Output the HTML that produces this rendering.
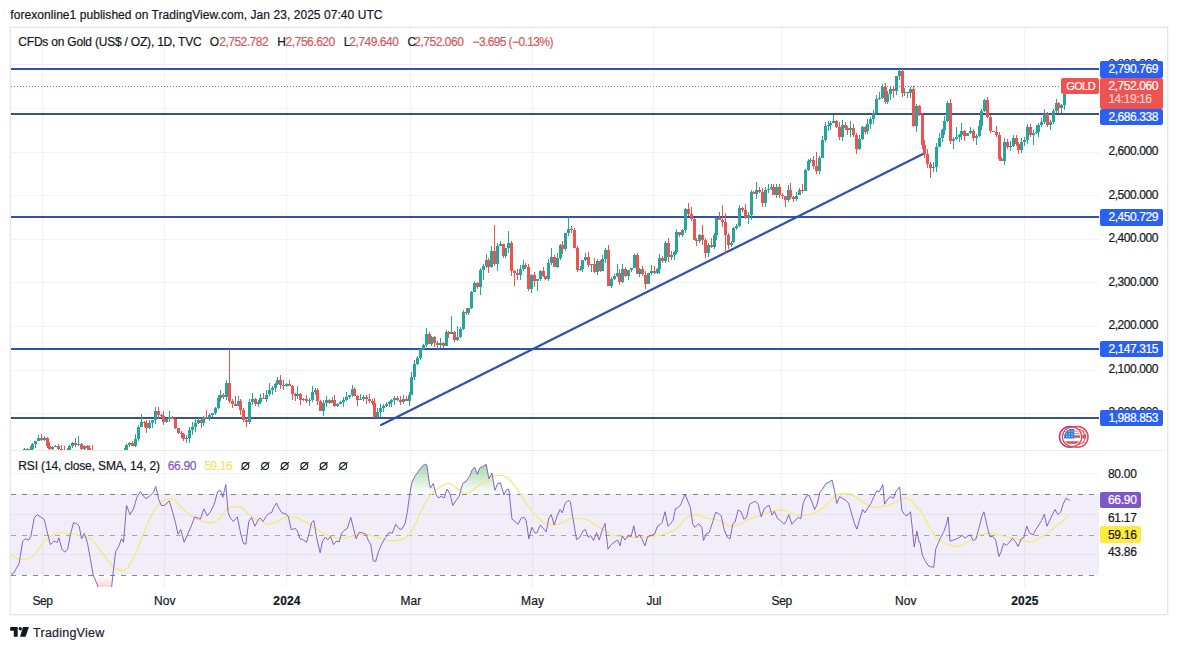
<!DOCTYPE html>
<html><head><meta charset="utf-8"><title>CFDs on Gold</title>
<style>
html,body{margin:0;padding:0;background:#fff;}
body{width:1177px;height:650px;position:relative;overflow:hidden;font-family:"Liberation Sans",sans-serif;}
.t{position:absolute;white-space:pre;line-height:1;font-family:"Liberation Sans",sans-serif;-webkit-text-stroke:0.2px currentColor;}
.lb{position:absolute;}
svg{position:absolute;left:0;top:0;}
.frame{position:absolute;left:10px;top:27px;width:1155.6px;height:586px;border:1px solid #e6e6e9;box-sizing:content-box;box-shadow:0 0 0 1px #f7f7f9;}
</style></head><body>
<div class="frame"></div>
<svg width="1177" height="650" viewBox="0 0 1177 650">
<defs>
<clipPath id="cpMain"><rect x="11" y="28" width="1088" height="422"/></clipPath>
<clipPath id="cpRsi"><rect x="11" y="451" width="1088" height="136"/></clipPath>
<clipPath id="cpOB"><rect x="10" y="450" width="1089" height="43.8"/></clipPath>
<clipPath id="cpOS"><rect x="10" y="575.3" width="1089" height="11.7"/></clipPath>
<linearGradient id="gOB" gradientUnits="userSpaceOnUse" x1="0" y1="449.0" x2="0" y2="493.8"><stop offset="0" stop-color="#4caf50" stop-opacity="0.75"/><stop offset="1" stop-color="#4caf50" stop-opacity="0"/></linearGradient>
<linearGradient id="gOS" gradientUnits="userSpaceOnUse" x1="0" y1="575.3" x2="0" y2="587"><stop offset="0" stop-color="#ff5252" stop-opacity="0"/><stop offset="1" stop-color="#ff5252" stop-opacity="0.25"/></linearGradient>
<clipPath id="cpFlag"><circle cx="1072.1" cy="436.9" r="8.1"/></clipPath>
</defs>
<g shape-rendering="crispEdges">
<rect x="42" y="28" width="1" height="559" fill="#f2f3f5"/>
<rect x="164" y="28" width="1" height="559" fill="#f2f3f5"/>
<rect x="286" y="28" width="1" height="559" fill="#f2f3f5"/>
<rect x="410" y="28" width="1" height="559" fill="#f2f3f5"/>
<rect x="532" y="28" width="1" height="559" fill="#f2f3f5"/>
<rect x="653" y="28" width="1" height="559" fill="#f2f3f5"/>
<rect x="781" y="28" width="1" height="559" fill="#f2f3f5"/>
<rect x="905" y="28" width="1" height="559" fill="#f2f3f5"/>
<rect x="1024" y="28" width="1" height="559" fill="#f2f3f5"/>
<rect x="11" y="64" width="1088" height="1" fill="#f2f3f5"/>
<rect x="11" y="108" width="1088" height="1" fill="#f2f3f5"/>
<rect x="11" y="152" width="1088" height="1" fill="#f2f3f5"/>
<rect x="11" y="195" width="1088" height="1" fill="#f2f3f5"/>
<rect x="11" y="239" width="1088" height="1" fill="#f2f3f5"/>
<rect x="11" y="282" width="1088" height="1" fill="#f2f3f5"/>
<rect x="11" y="326" width="1088" height="1" fill="#f2f3f5"/>
<rect x="11" y="370" width="1088" height="1" fill="#f2f3f5"/>
<rect x="11" y="413" width="1088" height="1" fill="#f2f3f5"/>
<rect x="11" y="473" width="1088" height="1" fill="#f2f3f5"/>
<rect x="11" y="514" width="1088" height="1" fill="#f2f3f5"/>
<rect x="11" y="554" width="1088" height="1" fill="#f2f3f5"/>
<rect x="11" y="450" width="1155" height="1" fill="#e9eaee"/>
</g>
<line x1="11" y1="86.5" x2="1061" y2="86.5" stroke="#a06a66" stroke-width="1" stroke-dasharray="1 2"/>
<g shape-rendering="crispEdges">
<rect x="11" y="68" width="1087.5" height="2" fill="#2d51b6"/>
<rect x="11" y="113" width="1087.5" height="2" fill="#38528a"/>
<rect x="11" y="216" width="1087.5" height="2" fill="#2d51b6"/>
<rect x="11" y="348" width="1087.5" height="2" fill="#2d51b6"/>
<rect x="11" y="417" width="1087.5" height="2" fill="#38528a"/>
</g>
<line x1="381" y1="424.9" x2="924.5" y2="153.2" stroke="#2d51b6" stroke-width="2.2" stroke-linecap="round"/>
<g clip-path="url(#cpMain)" shape-rendering="crispEdges">
<rect x="12" y="453.0" width="1" height="6.8" fill="#26a69a"/>
<rect x="11" y="456.0" width="3" height="2.8" fill="#26a69a"/>
<rect x="15" y="455.0" width="1" height="4.0" fill="#ef5350"/>
<rect x="14" y="456.0" width="3" height="2.0" fill="#ef5350"/>
<rect x="18" y="450.0" width="1" height="8.0" fill="#26a69a"/>
<rect x="17" y="453.0" width="3" height="5.0" fill="#26a69a"/>
<rect x="21" y="449.5" width="1" height="3.5" fill="#26a69a"/>
<rect x="20" y="451.5" width="3" height="1.5" fill="#26a69a"/>
<rect x="24" y="448.2" width="1" height="7.3" fill="#26a69a"/>
<rect x="23" y="449.2" width="3" height="2.3" fill="#26a69a"/>
<rect x="27" y="447.8" width="1" height="3.8" fill="#ef5350"/>
<rect x="26" y="449.2" width="3" height="1.4" fill="#ef5350"/>
<rect x="30" y="445.6" width="1" height="9.0" fill="#26a69a"/>
<rect x="29" y="449.0" width="3" height="1.6" fill="#26a69a"/>
<rect x="32" y="442.6" width="1" height="8.4" fill="#26a69a"/>
<rect x="31" y="443.6" width="3" height="5.4" fill="#26a69a"/>
<rect x="35" y="440.8" width="1" height="6.8" fill="#26a69a"/>
<rect x="34" y="440.8" width="3" height="2.8" fill="#26a69a"/>
<rect x="38" y="435.2" width="1" height="5.6" fill="#26a69a"/>
<rect x="37" y="437.8" width="3" height="3.0" fill="#26a69a"/>
<rect x="41" y="434.3" width="1" height="7.1" fill="#ef5350"/>
<rect x="40" y="437.8" width="3" height="1.8" fill="#ef5350"/>
<rect x="44" y="436.0" width="1" height="5.0" fill="#26a69a"/>
<rect x="43" y="438.2" width="3" height="1.4" fill="#26a69a"/>
<rect x="47" y="437.2" width="1" height="10.4" fill="#ef5350"/>
<rect x="46" y="438.2" width="3" height="7.4" fill="#ef5350"/>
<rect x="49" y="441.6" width="1" height="8.5" fill="#ef5350"/>
<rect x="48" y="445.6" width="3" height="3.5" fill="#ef5350"/>
<rect x="52" y="445.6" width="1" height="4.5" fill="#26a69a"/>
<rect x="51" y="447.2" width="3" height="1.9" fill="#26a69a"/>
<rect x="55" y="444.5" width="1" height="2.7" fill="#26a69a"/>
<rect x="54" y="445.5" width="3" height="1.7" fill="#26a69a"/>
<rect x="58" y="443.8" width="1" height="6.7" fill="#ef5350"/>
<rect x="57" y="445.5" width="3" height="3.0" fill="#ef5350"/>
<rect x="61" y="444.5" width="1" height="9.0" fill="#ef5350"/>
<rect x="60" y="448.5" width="3" height="2.0" fill="#ef5350"/>
<rect x="64" y="445.5" width="1" height="9.9" fill="#ef5350"/>
<rect x="63" y="450.5" width="3" height="1.9" fill="#ef5350"/>
<rect x="67" y="448.2" width="1" height="6.3" fill="#26a69a"/>
<rect x="66" y="450.2" width="3" height="2.3" fill="#26a69a"/>
<rect x="69" y="444.6" width="1" height="7.6" fill="#26a69a"/>
<rect x="68" y="445.6" width="3" height="4.6" fill="#26a69a"/>
<rect x="72" y="441.6" width="1" height="6.0" fill="#26a69a"/>
<rect x="71" y="442.6" width="3" height="3.0" fill="#26a69a"/>
<rect x="75" y="437.6" width="1" height="9.3" fill="#ef5350"/>
<rect x="74" y="442.6" width="3" height="2.3" fill="#ef5350"/>
<rect x="78" y="436.1" width="1" height="9.8" fill="#26a69a"/>
<rect x="77" y="443.5" width="3" height="1.4" fill="#26a69a"/>
<rect x="81" y="442.5" width="1" height="10.6" fill="#ef5350"/>
<rect x="80" y="443.5" width="3" height="5.6" fill="#ef5350"/>
<rect x="84" y="444.8" width="1" height="7.3" fill="#26a69a"/>
<rect x="83" y="445.8" width="3" height="3.3" fill="#26a69a"/>
<rect x="87" y="444.8" width="1" height="5.8" fill="#ef5350"/>
<rect x="86" y="445.8" width="3" height="1.8" fill="#ef5350"/>
<rect x="89" y="444.6" width="1" height="8.1" fill="#ef5350"/>
<rect x="88" y="447.6" width="3" height="2.1" fill="#ef5350"/>
<rect x="92" y="444.7" width="1" height="7.9" fill="#ef5350"/>
<rect x="91" y="449.7" width="3" height="1.9" fill="#ef5350"/>
<rect x="95" y="450.6" width="1" height="4.4" fill="#ef5350"/>
<rect x="94" y="451.6" width="3" height="1.4" fill="#ef5350"/>
<rect x="98" y="452.0" width="1" height="3.1" fill="#ef5350"/>
<rect x="97" y="453.0" width="3" height="2.1" fill="#ef5350"/>
<rect x="101" y="450.1" width="1" height="9.0" fill="#ef5350"/>
<rect x="100" y="455.1" width="3" height="2.0" fill="#ef5350"/>
<rect x="104" y="452.1" width="1" height="9.3" fill="#ef5350"/>
<rect x="103" y="457.1" width="3" height="1.3" fill="#ef5350"/>
<rect x="106" y="454.7" width="1" height="8.7" fill="#26a69a"/>
<rect x="105" y="455.7" width="3" height="2.7" fill="#26a69a"/>
<rect x="109" y="452.2" width="1" height="4.5" fill="#26a69a"/>
<rect x="108" y="454.2" width="3" height="1.5" fill="#26a69a"/>
<rect x="112" y="450.2" width="1" height="10.7" fill="#ef5350"/>
<rect x="111" y="454.2" width="3" height="2.7" fill="#ef5350"/>
<rect x="115" y="451.9" width="1" height="10.4" fill="#ef5350"/>
<rect x="114" y="456.9" width="3" height="1.4" fill="#ef5350"/>
<rect x="118" y="453.6" width="1" height="8.7" fill="#26a69a"/>
<rect x="117" y="454.6" width="3" height="3.7" fill="#26a69a"/>
<rect x="121" y="451.6" width="1" height="9.1" fill="#ef5350"/>
<rect x="120" y="454.6" width="3" height="2.1" fill="#ef5350"/>
<rect x="124" y="448.0" width="1" height="9.7" fill="#26a69a"/>
<rect x="123" y="450.0" width="3" height="6.7" fill="#26a69a"/>
<rect x="126" y="444.4" width="1" height="6.6" fill="#26a69a"/>
<rect x="125" y="445.4" width="3" height="4.6" fill="#26a69a"/>
<rect x="129" y="441.8" width="1" height="5.5" fill="#26a69a"/>
<rect x="128" y="442.8" width="3" height="2.5" fill="#26a69a"/>
<rect x="132" y="440.8" width="1" height="5.4" fill="#ef5350"/>
<rect x="131" y="442.8" width="3" height="3.4" fill="#ef5350"/>
<rect x="135" y="433.6" width="1" height="13.6" fill="#26a69a"/>
<rect x="134" y="438.6" width="3" height="7.6" fill="#26a69a"/>
<rect x="138" y="424.7" width="1" height="15.9" fill="#26a69a"/>
<rect x="137" y="426.7" width="3" height="11.9" fill="#26a69a"/>
<rect x="141" y="413.9" width="1" height="12.7" fill="#26a69a"/>
<rect x="140" y="421.6" width="3" height="5.1" fill="#26a69a"/>
<rect x="144" y="420.6" width="1" height="6.7" fill="#ef5350"/>
<rect x="143" y="421.6" width="3" height="1.7" fill="#ef5350"/>
<rect x="146" y="420.3" width="1" height="12.3" fill="#ef5350"/>
<rect x="145" y="423.3" width="3" height="4.2" fill="#ef5350"/>
<rect x="149" y="420.3" width="1" height="8.2" fill="#26a69a"/>
<rect x="148" y="423.3" width="3" height="4.2" fill="#26a69a"/>
<rect x="152" y="419.9" width="1" height="8.4" fill="#26a69a"/>
<rect x="151" y="419.9" width="3" height="3.4" fill="#26a69a"/>
<rect x="155" y="406.5" width="1" height="17.3" fill="#26a69a"/>
<rect x="154" y="410.5" width="3" height="9.3" fill="#26a69a"/>
<rect x="158" y="406.5" width="1" height="12.2" fill="#ef5350"/>
<rect x="157" y="410.5" width="3" height="4.2" fill="#ef5350"/>
<rect x="161" y="413.8" width="1" height="4.4" fill="#ef5350"/>
<rect x="160" y="414.8" width="3" height="1.4" fill="#ef5350"/>
<rect x="163" y="411.1" width="1" height="13.8" fill="#ef5350"/>
<rect x="162" y="416.1" width="3" height="5.4" fill="#ef5350"/>
<rect x="166" y="418.0" width="1" height="4.5" fill="#26a69a"/>
<rect x="165" y="419.0" width="3" height="2.5" fill="#26a69a"/>
<rect x="169" y="411.4" width="1" height="10.6" fill="#26a69a"/>
<rect x="168" y="417.3" width="3" height="1.7" fill="#26a69a"/>
<rect x="172" y="416.3" width="1" height="2.8" fill="#ef5350"/>
<rect x="171" y="417.3" width="3" height="1.8" fill="#ef5350"/>
<rect x="175" y="418.1" width="1" height="11.3" fill="#ef5350"/>
<rect x="174" y="419.1" width="3" height="9.3" fill="#ef5350"/>
<rect x="178" y="428.4" width="1" height="5.4" fill="#ef5350"/>
<rect x="177" y="428.4" width="3" height="4.4" fill="#ef5350"/>
<rect x="181" y="430.7" width="1" height="7.6" fill="#ef5350"/>
<rect x="180" y="432.7" width="3" height="1.6" fill="#ef5350"/>
<rect x="183" y="433.3" width="1" height="8.1" fill="#ef5350"/>
<rect x="182" y="434.3" width="3" height="5.1" fill="#ef5350"/>
<rect x="186" y="434.7" width="1" height="8.1" fill="#26a69a"/>
<rect x="185" y="437.7" width="3" height="1.7" fill="#26a69a"/>
<rect x="189" y="427.1" width="1" height="15.6" fill="#26a69a"/>
<rect x="188" y="430.1" width="3" height="7.6" fill="#26a69a"/>
<rect x="192" y="421.5" width="1" height="13.6" fill="#26a69a"/>
<rect x="191" y="426.5" width="3" height="3.6" fill="#26a69a"/>
<rect x="195" y="418.3" width="1" height="13.2" fill="#26a69a"/>
<rect x="194" y="423.3" width="3" height="3.2" fill="#26a69a"/>
<rect x="198" y="417.9" width="1" height="6.4" fill="#26a69a"/>
<rect x="197" y="419.9" width="3" height="3.4" fill="#26a69a"/>
<rect x="201" y="418.9" width="1" height="8.7" fill="#ef5350"/>
<rect x="200" y="419.9" width="3" height="3.5" fill="#ef5350"/>
<rect x="203" y="415.6" width="1" height="10.8" fill="#26a69a"/>
<rect x="202" y="416.6" width="3" height="6.8" fill="#26a69a"/>
<rect x="206" y="409.8" width="1" height="9.6" fill="#ef5350"/>
<rect x="205" y="416.6" width="3" height="1.8" fill="#ef5350"/>
<rect x="209" y="413.4" width="1" height="8.0" fill="#26a69a"/>
<rect x="208" y="415.4" width="3" height="3.0" fill="#26a69a"/>
<rect x="212" y="413.3" width="1" height="4.1" fill="#26a69a"/>
<rect x="211" y="413.3" width="3" height="2.1" fill="#26a69a"/>
<rect x="215" y="407.1" width="1" height="8.2" fill="#26a69a"/>
<rect x="214" y="408.1" width="3" height="5.2" fill="#26a69a"/>
<rect x="218" y="394.9" width="1" height="14.2" fill="#26a69a"/>
<rect x="217" y="397.9" width="3" height="10.2" fill="#26a69a"/>
<rect x="220" y="390.2" width="1" height="10.6" fill="#26a69a"/>
<rect x="219" y="394.5" width="3" height="3.4" fill="#26a69a"/>
<rect x="223" y="392.5" width="1" height="6.0" fill="#ef5350"/>
<rect x="222" y="394.5" width="3" height="2.0" fill="#ef5350"/>
<rect x="226" y="380.0" width="1" height="20.4" fill="#26a69a"/>
<rect x="225" y="382.6" width="3" height="13.9" fill="#26a69a"/>
<rect x="229" y="348.9" width="1" height="54.3" fill="#ef5350"/>
<rect x="228" y="382.6" width="3" height="18.7" fill="#ef5350"/>
<rect x="232" y="399.3" width="1" height="8.8" fill="#ef5350"/>
<rect x="231" y="401.3" width="3" height="2.5" fill="#ef5350"/>
<rect x="235" y="396.2" width="1" height="9.3" fill="#ef5350"/>
<rect x="234" y="403.8" width="3" height="1.7" fill="#ef5350"/>
<rect x="238" y="396.2" width="1" height="9.3" fill="#26a69a"/>
<rect x="237" y="401.3" width="3" height="4.2" fill="#26a69a"/>
<rect x="240" y="399.3" width="1" height="15.5" fill="#ef5350"/>
<rect x="239" y="401.3" width="3" height="8.5" fill="#ef5350"/>
<rect x="243" y="407.8" width="1" height="14.2" fill="#ef5350"/>
<rect x="242" y="409.8" width="3" height="10.2" fill="#ef5350"/>
<rect x="246" y="417.0" width="1" height="10.0" fill="#ef5350"/>
<rect x="245" y="420.0" width="3" height="2.0" fill="#ef5350"/>
<rect x="249" y="399.1" width="1" height="25.1" fill="#26a69a"/>
<rect x="248" y="402.1" width="3" height="19.9" fill="#26a69a"/>
<rect x="252" y="392.8" width="1" height="12.3" fill="#26a69a"/>
<rect x="251" y="398.7" width="3" height="3.4" fill="#26a69a"/>
<rect x="255" y="397.7" width="1" height="8.1" fill="#ef5350"/>
<rect x="254" y="398.7" width="3" height="5.1" fill="#ef5350"/>
<rect x="258" y="400.3" width="1" height="6.5" fill="#26a69a"/>
<rect x="257" y="402.3" width="3" height="1.5" fill="#26a69a"/>
<rect x="260" y="393.6" width="1" height="10.6" fill="#26a69a"/>
<rect x="259" y="397.9" width="3" height="4.4" fill="#26a69a"/>
<rect x="263" y="392.9" width="1" height="6.4" fill="#ef5350"/>
<rect x="262" y="397.9" width="3" height="1.4" fill="#ef5350"/>
<rect x="266" y="389.5" width="1" height="12.8" fill="#26a69a"/>
<rect x="265" y="394.5" width="3" height="4.8" fill="#26a69a"/>
<rect x="269" y="382.6" width="1" height="12.9" fill="#26a69a"/>
<rect x="268" y="390.2" width="3" height="4.2" fill="#26a69a"/>
<rect x="272" y="385.9" width="1" height="9.3" fill="#26a69a"/>
<rect x="271" y="387.9" width="3" height="2.3" fill="#26a69a"/>
<rect x="275" y="383.3" width="1" height="8.6" fill="#26a69a"/>
<rect x="274" y="384.3" width="3" height="3.6" fill="#26a69a"/>
<rect x="277" y="376.5" width="1" height="8.8" fill="#26a69a"/>
<rect x="276" y="379.5" width="3" height="4.8" fill="#26a69a"/>
<rect x="280" y="375.4" width="1" height="13.2" fill="#ef5350"/>
<rect x="279" y="379.5" width="3" height="5.1" fill="#ef5350"/>
<rect x="283" y="379.6" width="1" height="10.4" fill="#ef5350"/>
<rect x="282" y="384.6" width="3" height="1.4" fill="#ef5350"/>
<rect x="286" y="382.9" width="1" height="4.1" fill="#26a69a"/>
<rect x="285" y="383.9" width="3" height="2.1" fill="#26a69a"/>
<rect x="289" y="379.5" width="1" height="6.1" fill="#ef5350"/>
<rect x="288" y="383.9" width="3" height="1.8" fill="#ef5350"/>
<rect x="292" y="384.6" width="1" height="14.9" fill="#ef5350"/>
<rect x="291" y="385.6" width="3" height="8.5" fill="#ef5350"/>
<rect x="295" y="393.1" width="1" height="8.2" fill="#ef5350"/>
<rect x="294" y="394.1" width="3" height="2.2" fill="#ef5350"/>
<rect x="297" y="385.6" width="1" height="13.7" fill="#26a69a"/>
<rect x="296" y="393.6" width="3" height="2.7" fill="#26a69a"/>
<rect x="300" y="392.6" width="1" height="12.0" fill="#ef5350"/>
<rect x="299" y="393.6" width="3" height="6.8" fill="#ef5350"/>
<rect x="303" y="398.1" width="1" height="3.3" fill="#26a69a"/>
<rect x="302" y="399.1" width="3" height="1.3" fill="#26a69a"/>
<rect x="306" y="395.1" width="1" height="8.2" fill="#ef5350"/>
<rect x="305" y="399.1" width="3" height="2.2" fill="#ef5350"/>
<rect x="309" y="397.9" width="1" height="8.4" fill="#26a69a"/>
<rect x="308" y="399.9" width="3" height="1.3" fill="#26a69a"/>
<rect x="312" y="386.0" width="1" height="16.0" fill="#26a69a"/>
<rect x="311" y="391.9" width="3" height="8.0" fill="#26a69a"/>
<rect x="315" y="388.2" width="1" height="6.7" fill="#26a69a"/>
<rect x="314" y="390.2" width="3" height="1.7" fill="#26a69a"/>
<rect x="317" y="388.2" width="1" height="17.0" fill="#ef5350"/>
<rect x="316" y="390.2" width="3" height="11.0" fill="#ef5350"/>
<rect x="320" y="400.3" width="1" height="10.3" fill="#ef5350"/>
<rect x="319" y="401.3" width="3" height="9.3" fill="#ef5350"/>
<rect x="323" y="400.0" width="1" height="15.6" fill="#26a69a"/>
<rect x="322" y="403.0" width="3" height="7.6" fill="#26a69a"/>
<rect x="326" y="396.2" width="1" height="10.8" fill="#26a69a"/>
<rect x="325" y="400.4" width="3" height="2.5" fill="#26a69a"/>
<rect x="329" y="399.4" width="1" height="4.5" fill="#ef5350"/>
<rect x="328" y="400.4" width="3" height="2.5" fill="#ef5350"/>
<rect x="332" y="397.0" width="1" height="5.9" fill="#26a69a"/>
<rect x="331" y="400.4" width="3" height="2.5" fill="#26a69a"/>
<rect x="334" y="395.4" width="1" height="11.6" fill="#ef5350"/>
<rect x="333" y="400.4" width="3" height="5.6" fill="#ef5350"/>
<rect x="337" y="402.9" width="1" height="4.2" fill="#26a69a"/>
<rect x="336" y="403.9" width="3" height="2.2" fill="#26a69a"/>
<rect x="340" y="401.1" width="1" height="2.8" fill="#26a69a"/>
<rect x="339" y="402.1" width="3" height="1.8" fill="#26a69a"/>
<rect x="343" y="396.6" width="1" height="10.5" fill="#26a69a"/>
<rect x="342" y="399.6" width="3" height="2.5" fill="#26a69a"/>
<rect x="346" y="391.9" width="1" height="8.6" fill="#26a69a"/>
<rect x="345" y="397.0" width="3" height="2.5" fill="#26a69a"/>
<rect x="349" y="395.3" width="1" height="3.7" fill="#26a69a"/>
<rect x="348" y="395.3" width="3" height="1.7" fill="#26a69a"/>
<rect x="352" y="385.1" width="1" height="12.2" fill="#26a69a"/>
<rect x="351" y="389.4" width="3" height="5.9" fill="#26a69a"/>
<rect x="354" y="387.4" width="1" height="8.8" fill="#ef5350"/>
<rect x="353" y="389.4" width="3" height="6.8" fill="#ef5350"/>
<rect x="357" y="395.2" width="1" height="11.2" fill="#ef5350"/>
<rect x="356" y="396.2" width="3" height="4.2" fill="#ef5350"/>
<rect x="360" y="393.7" width="1" height="6.7" fill="#26a69a"/>
<rect x="359" y="398.7" width="3" height="1.7" fill="#26a69a"/>
<rect x="363" y="394.5" width="1" height="6.2" fill="#26a69a"/>
<rect x="362" y="396.9" width="3" height="1.8" fill="#26a69a"/>
<rect x="366" y="394.9" width="1" height="8.8" fill="#ef5350"/>
<rect x="365" y="396.9" width="3" height="1.8" fill="#ef5350"/>
<rect x="369" y="393.7" width="1" height="9.5" fill="#ef5350"/>
<rect x="368" y="398.7" width="3" height="2.5" fill="#ef5350"/>
<rect x="372" y="399.3" width="1" height="5.7" fill="#ef5350"/>
<rect x="371" y="401.3" width="3" height="1.7" fill="#ef5350"/>
<rect x="374" y="398.0" width="1" height="19.6" fill="#ef5350"/>
<rect x="373" y="403.0" width="3" height="13.6" fill="#ef5350"/>
<rect x="377" y="407.5" width="1" height="10.1" fill="#26a69a"/>
<rect x="376" y="411.5" width="3" height="5.1" fill="#26a69a"/>
<rect x="380" y="404.1" width="1" height="12.4" fill="#26a69a"/>
<rect x="379" y="408.1" width="3" height="3.4" fill="#26a69a"/>
<rect x="383" y="403.9" width="1" height="8.2" fill="#26a69a"/>
<rect x="382" y="405.9" width="3" height="2.2" fill="#26a69a"/>
<rect x="386" y="402.3" width="1" height="4.5" fill="#26a69a"/>
<rect x="385" y="404.3" width="3" height="1.5" fill="#26a69a"/>
<rect x="389" y="401.0" width="1" height="6.4" fill="#26a69a"/>
<rect x="388" y="402.0" width="3" height="2.4" fill="#26a69a"/>
<rect x="391" y="399.4" width="1" height="7.6" fill="#26a69a"/>
<rect x="390" y="400.4" width="3" height="1.6" fill="#26a69a"/>
<rect x="394" y="396.0" width="1" height="8.5" fill="#26a69a"/>
<rect x="393" y="398.3" width="3" height="2.1" fill="#26a69a"/>
<rect x="397" y="396.3" width="1" height="4.5" fill="#ef5350"/>
<rect x="396" y="398.3" width="3" height="1.5" fill="#ef5350"/>
<rect x="400" y="395.7" width="1" height="9.4" fill="#ef5350"/>
<rect x="399" y="399.7" width="3" height="2.4" fill="#ef5350"/>
<rect x="403" y="395.4" width="1" height="8.7" fill="#26a69a"/>
<rect x="402" y="399.4" width="3" height="2.7" fill="#26a69a"/>
<rect x="406" y="396.4" width="1" height="4.7" fill="#ef5350"/>
<rect x="405" y="399.4" width="3" height="1.7" fill="#ef5350"/>
<rect x="409" y="392.2" width="1" height="13.9" fill="#26a69a"/>
<rect x="408" y="395.2" width="3" height="5.9" fill="#26a69a"/>
<rect x="411" y="372.3" width="1" height="22.8" fill="#26a69a"/>
<rect x="410" y="377.3" width="3" height="17.8" fill="#26a69a"/>
<rect x="414" y="359.7" width="1" height="20.6" fill="#26a69a"/>
<rect x="413" y="363.7" width="3" height="13.6" fill="#26a69a"/>
<rect x="417" y="355.8" width="1" height="8.9" fill="#26a69a"/>
<rect x="416" y="357.8" width="3" height="5.9" fill="#26a69a"/>
<rect x="420" y="348.3" width="1" height="11.5" fill="#26a69a"/>
<rect x="419" y="349.3" width="3" height="8.5" fill="#26a69a"/>
<rect x="423" y="344.0" width="1" height="6.2" fill="#26a69a"/>
<rect x="422" y="345.0" width="3" height="4.2" fill="#26a69a"/>
<rect x="426" y="328.0" width="1" height="19.0" fill="#26a69a"/>
<rect x="425" y="334.0" width="3" height="11.0" fill="#26a69a"/>
<rect x="429" y="332.0" width="1" height="12.2" fill="#ef5350"/>
<rect x="428" y="334.0" width="3" height="10.2" fill="#ef5350"/>
<rect x="431" y="336.4" width="1" height="9.8" fill="#26a69a"/>
<rect x="430" y="337.4" width="3" height="6.8" fill="#26a69a"/>
<rect x="434" y="336.4" width="1" height="10.9" fill="#ef5350"/>
<rect x="433" y="337.4" width="3" height="5.9" fill="#ef5350"/>
<rect x="437" y="341.3" width="1" height="7.7" fill="#ef5350"/>
<rect x="436" y="343.3" width="3" height="1.7" fill="#ef5350"/>
<rect x="440" y="338.1" width="1" height="9.9" fill="#26a69a"/>
<rect x="439" y="343.1" width="3" height="1.9" fill="#26a69a"/>
<rect x="443" y="342.1" width="1" height="6.3" fill="#ef5350"/>
<rect x="442" y="343.1" width="3" height="2.7" fill="#ef5350"/>
<rect x="446" y="330.3" width="1" height="15.6" fill="#26a69a"/>
<rect x="445" y="332.3" width="3" height="13.6" fill="#26a69a"/>
<rect x="448" y="331.3" width="1" height="6.8" fill="#ef5350"/>
<rect x="447" y="332.3" width="3" height="1.8" fill="#ef5350"/>
<rect x="451" y="316.1" width="1" height="17.9" fill="#26a69a"/>
<rect x="450" y="332.4" width="3" height="1.6" fill="#26a69a"/>
<rect x="454" y="331.4" width="1" height="10.5" fill="#ef5350"/>
<rect x="453" y="332.4" width="3" height="7.5" fill="#ef5350"/>
<rect x="457" y="326.3" width="1" height="14.6" fill="#26a69a"/>
<rect x="456" y="336.5" width="3" height="3.4" fill="#26a69a"/>
<rect x="460" y="326.9" width="1" height="10.6" fill="#26a69a"/>
<rect x="459" y="328.9" width="3" height="7.6" fill="#26a69a"/>
<rect x="463" y="309.6" width="1" height="20.3" fill="#26a69a"/>
<rect x="462" y="311.6" width="3" height="17.3" fill="#26a69a"/>
<rect x="466" y="307.6" width="1" height="7.3" fill="#ef5350"/>
<rect x="465" y="311.6" width="3" height="1.3" fill="#ef5350"/>
<rect x="468" y="308.2" width="1" height="6.7" fill="#26a69a"/>
<rect x="467" y="308.2" width="3" height="4.7" fill="#26a69a"/>
<rect x="471" y="291.3" width="1" height="17.9" fill="#26a69a"/>
<rect x="470" y="292.3" width="3" height="15.9" fill="#26a69a"/>
<rect x="474" y="281.0" width="1" height="11.3" fill="#26a69a"/>
<rect x="473" y="283.0" width="3" height="9.3" fill="#26a69a"/>
<rect x="477" y="282.0" width="1" height="7.2" fill="#ef5350"/>
<rect x="476" y="283.0" width="3" height="4.2" fill="#ef5350"/>
<rect x="480" y="268.2" width="1" height="26.6" fill="#26a69a"/>
<rect x="479" y="270.2" width="3" height="17.0" fill="#26a69a"/>
<rect x="483" y="264.0" width="1" height="16.4" fill="#26a69a"/>
<rect x="482" y="266.0" width="3" height="4.2" fill="#26a69a"/>
<rect x="486" y="254.1" width="1" height="13.9" fill="#26a69a"/>
<rect x="485" y="260.0" width="3" height="5.9" fill="#26a69a"/>
<rect x="488" y="258.0" width="1" height="14.7" fill="#ef5350"/>
<rect x="487" y="260.0" width="3" height="6.8" fill="#ef5350"/>
<rect x="491" y="245.7" width="1" height="22.1" fill="#26a69a"/>
<rect x="490" y="250.7" width="3" height="16.1" fill="#26a69a"/>
<rect x="494" y="225.2" width="1" height="41.1" fill="#ef5350"/>
<rect x="493" y="250.7" width="3" height="13.6" fill="#ef5350"/>
<rect x="497" y="243.4" width="1" height="27.6" fill="#26a69a"/>
<rect x="496" y="246.4" width="3" height="17.8" fill="#26a69a"/>
<rect x="500" y="240.5" width="1" height="5.9" fill="#26a69a"/>
<rect x="499" y="244.0" width="3" height="2.4" fill="#26a69a"/>
<rect x="503" y="244.0" width="1" height="14.3" fill="#ef5350"/>
<rect x="502" y="244.0" width="3" height="11.7" fill="#ef5350"/>
<rect x="505" y="248.1" width="1" height="9.6" fill="#26a69a"/>
<rect x="504" y="248.1" width="3" height="7.6" fill="#26a69a"/>
<rect x="508" y="231.1" width="1" height="22.0" fill="#26a69a"/>
<rect x="507" y="243.0" width="3" height="5.1" fill="#26a69a"/>
<rect x="511" y="241.0" width="1" height="35.0" fill="#ef5350"/>
<rect x="510" y="243.0" width="3" height="28.0" fill="#ef5350"/>
<rect x="514" y="270.1" width="1" height="15.4" fill="#ef5350"/>
<rect x="513" y="271.1" width="3" height="1.7" fill="#ef5350"/>
<rect x="517" y="268.8" width="1" height="11.5" fill="#ef5350"/>
<rect x="516" y="272.8" width="3" height="2.5" fill="#ef5350"/>
<rect x="520" y="265.4" width="1" height="14.2" fill="#26a69a"/>
<rect x="519" y="269.4" width="3" height="5.9" fill="#26a69a"/>
<rect x="523" y="260.0" width="1" height="11.3" fill="#26a69a"/>
<rect x="522" y="265.1" width="3" height="4.2" fill="#26a69a"/>
<rect x="525" y="263.1" width="1" height="5.7" fill="#ef5350"/>
<rect x="524" y="265.1" width="3" height="1.7" fill="#ef5350"/>
<rect x="528" y="263.8" width="1" height="27.1" fill="#ef5350"/>
<rect x="527" y="266.8" width="3" height="22.1" fill="#ef5350"/>
<rect x="531" y="273.5" width="1" height="19.4" fill="#26a69a"/>
<rect x="530" y="274.5" width="3" height="14.4" fill="#26a69a"/>
<rect x="534" y="271.5" width="1" height="15.7" fill="#ef5350"/>
<rect x="533" y="274.5" width="3" height="6.8" fill="#ef5350"/>
<rect x="537" y="279.0" width="1" height="12.4" fill="#26a69a"/>
<rect x="536" y="279.0" width="3" height="2.2" fill="#26a69a"/>
<rect x="540" y="270.1" width="1" height="11.0" fill="#26a69a"/>
<rect x="539" y="271.1" width="3" height="8.0" fill="#26a69a"/>
<rect x="543" y="267.1" width="1" height="10.1" fill="#ef5350"/>
<rect x="542" y="271.1" width="3" height="5.1" fill="#ef5350"/>
<rect x="545" y="276.2" width="1" height="3.5" fill="#ef5350"/>
<rect x="544" y="276.2" width="3" height="2.5" fill="#ef5350"/>
<rect x="548" y="259.4" width="1" height="21.3" fill="#26a69a"/>
<rect x="547" y="263.4" width="3" height="15.3" fill="#26a69a"/>
<rect x="551" y="248.1" width="1" height="17.3" fill="#26a69a"/>
<rect x="550" y="256.6" width="3" height="6.8" fill="#26a69a"/>
<rect x="554" y="254.6" width="1" height="12.2" fill="#ef5350"/>
<rect x="553" y="256.6" width="3" height="10.2" fill="#ef5350"/>
<rect x="557" y="253.3" width="1" height="14.5" fill="#26a69a"/>
<rect x="556" y="258.3" width="3" height="8.5" fill="#26a69a"/>
<rect x="560" y="244.2" width="1" height="16.1" fill="#26a69a"/>
<rect x="559" y="245.2" width="3" height="13.1" fill="#26a69a"/>
<rect x="562" y="240.5" width="1" height="13.5" fill="#ef5350"/>
<rect x="561" y="245.2" width="3" height="3.7" fill="#ef5350"/>
<rect x="565" y="232.5" width="1" height="18.5" fill="#26a69a"/>
<rect x="564" y="232.5" width="3" height="16.5" fill="#26a69a"/>
<rect x="568" y="216.7" width="1" height="18.8" fill="#26a69a"/>
<rect x="567" y="228.6" width="3" height="3.9" fill="#26a69a"/>
<rect x="571" y="225.6" width="1" height="7.7" fill="#ef5350"/>
<rect x="570" y="228.6" width="3" height="1.7" fill="#ef5350"/>
<rect x="574" y="228.3" width="1" height="19.8" fill="#ef5350"/>
<rect x="573" y="230.3" width="3" height="17.8" fill="#ef5350"/>
<rect x="577" y="246.1" width="1" height="26.1" fill="#ef5350"/>
<rect x="576" y="248.1" width="3" height="22.1" fill="#ef5350"/>
<rect x="580" y="265.5" width="1" height="5.7" fill="#26a69a"/>
<rect x="579" y="268.5" width="3" height="1.7" fill="#26a69a"/>
<rect x="582" y="260.0" width="1" height="11.5" fill="#26a69a"/>
<rect x="581" y="260.0" width="3" height="8.5" fill="#26a69a"/>
<rect x="585" y="252.6" width="1" height="8.4" fill="#26a69a"/>
<rect x="584" y="256.6" width="3" height="3.4" fill="#26a69a"/>
<rect x="588" y="251.6" width="1" height="15.5" fill="#ef5350"/>
<rect x="587" y="256.6" width="3" height="8.5" fill="#ef5350"/>
<rect x="591" y="263.6" width="1" height="8.4" fill="#26a69a"/>
<rect x="590" y="263.6" width="3" height="1.6" fill="#26a69a"/>
<rect x="594" y="257.5" width="1" height="15.4" fill="#ef5350"/>
<rect x="593" y="263.6" width="3" height="8.4" fill="#ef5350"/>
<rect x="597" y="258.9" width="1" height="16.4" fill="#26a69a"/>
<rect x="596" y="260.9" width="3" height="11.0" fill="#26a69a"/>
<rect x="600" y="259.9" width="1" height="12.2" fill="#ef5350"/>
<rect x="599" y="260.9" width="3" height="10.2" fill="#ef5350"/>
<rect x="602" y="254.8" width="1" height="16.2" fill="#26a69a"/>
<rect x="601" y="258.8" width="3" height="12.2" fill="#26a69a"/>
<rect x="605" y="248.1" width="1" height="14.7" fill="#26a69a"/>
<rect x="604" y="249.8" width="3" height="9.0" fill="#26a69a"/>
<rect x="608" y="244.7" width="1" height="40.8" fill="#ef5350"/>
<rect x="607" y="249.8" width="3" height="35.7" fill="#ef5350"/>
<rect x="611" y="276.7" width="1" height="10.8" fill="#26a69a"/>
<rect x="610" y="278.7" width="3" height="6.8" fill="#26a69a"/>
<rect x="614" y="274.2" width="1" height="5.5" fill="#26a69a"/>
<rect x="613" y="276.2" width="3" height="2.5" fill="#26a69a"/>
<rect x="617" y="264.3" width="1" height="12.9" fill="#26a69a"/>
<rect x="616" y="272.8" width="3" height="3.4" fill="#26a69a"/>
<rect x="619" y="268.8" width="1" height="16.3" fill="#ef5350"/>
<rect x="618" y="272.8" width="3" height="9.3" fill="#ef5350"/>
<rect x="622" y="264.4" width="1" height="18.7" fill="#26a69a"/>
<rect x="621" y="269.4" width="3" height="12.7" fill="#26a69a"/>
<rect x="625" y="267.4" width="1" height="9.8" fill="#ef5350"/>
<rect x="624" y="269.4" width="3" height="6.8" fill="#ef5350"/>
<rect x="628" y="270.2" width="1" height="9.9" fill="#26a69a"/>
<rect x="627" y="270.2" width="3" height="5.9" fill="#26a69a"/>
<rect x="631" y="267.9" width="1" height="4.3" fill="#26a69a"/>
<rect x="630" y="267.9" width="3" height="2.3" fill="#26a69a"/>
<rect x="634" y="254.4" width="1" height="13.5" fill="#26a69a"/>
<rect x="633" y="255.4" width="3" height="12.5" fill="#26a69a"/>
<rect x="637" y="253.2" width="1" height="20.4" fill="#ef5350"/>
<rect x="636" y="255.4" width="3" height="18.2" fill="#ef5350"/>
<rect x="639" y="267.5" width="1" height="9.1" fill="#26a69a"/>
<rect x="638" y="268.5" width="3" height="5.1" fill="#26a69a"/>
<rect x="642" y="266.0" width="1" height="9.5" fill="#ef5350"/>
<rect x="641" y="268.5" width="3" height="5.9" fill="#ef5350"/>
<rect x="645" y="270.5" width="1" height="18.3" fill="#ef5350"/>
<rect x="644" y="274.5" width="3" height="9.3" fill="#ef5350"/>
<rect x="648" y="272.8" width="1" height="11.0" fill="#26a69a"/>
<rect x="647" y="272.8" width="3" height="11.0" fill="#26a69a"/>
<rect x="651" y="265.2" width="1" height="9.6" fill="#26a69a"/>
<rect x="650" y="271.1" width="3" height="1.7" fill="#26a69a"/>
<rect x="654" y="266.1" width="1" height="7.6" fill="#ef5350"/>
<rect x="653" y="271.1" width="3" height="1.6" fill="#ef5350"/>
<rect x="657" y="267.6" width="1" height="6.1" fill="#26a69a"/>
<rect x="656" y="268.6" width="3" height="4.1" fill="#26a69a"/>
<rect x="659" y="254.1" width="1" height="19.4" fill="#26a69a"/>
<rect x="658" y="258.4" width="3" height="10.2" fill="#26a69a"/>
<rect x="662" y="256.4" width="1" height="6.2" fill="#ef5350"/>
<rect x="661" y="258.4" width="3" height="2.2" fill="#ef5350"/>
<rect x="665" y="241.1" width="1" height="21.5" fill="#26a69a"/>
<rect x="664" y="243.1" width="3" height="17.5" fill="#26a69a"/>
<rect x="668" y="238.1" width="1" height="23.6" fill="#ef5350"/>
<rect x="667" y="243.1" width="3" height="13.6" fill="#ef5350"/>
<rect x="671" y="251.0" width="1" height="9.1" fill="#26a69a"/>
<rect x="670" y="255.0" width="3" height="1.7" fill="#26a69a"/>
<rect x="674" y="251.4" width="1" height="8.5" fill="#26a69a"/>
<rect x="673" y="252.4" width="3" height="2.5" fill="#26a69a"/>
<rect x="676" y="228.6" width="1" height="25.8" fill="#26a69a"/>
<rect x="675" y="232.0" width="3" height="20.4" fill="#26a69a"/>
<rect x="679" y="232.0" width="1" height="4.5" fill="#ef5350"/>
<rect x="678" y="232.0" width="3" height="2.5" fill="#ef5350"/>
<rect x="682" y="229.3" width="1" height="7.8" fill="#26a69a"/>
<rect x="681" y="230.3" width="3" height="4.2" fill="#26a69a"/>
<rect x="685" y="208.4" width="1" height="24.9" fill="#26a69a"/>
<rect x="684" y="209.4" width="3" height="20.9" fill="#26a69a"/>
<rect x="688" y="203.1" width="1" height="13.0" fill="#ef5350"/>
<rect x="687" y="209.4" width="3" height="4.8" fill="#ef5350"/>
<rect x="691" y="206.5" width="1" height="14.7" fill="#ef5350"/>
<rect x="690" y="214.2" width="3" height="5.1" fill="#ef5350"/>
<rect x="694" y="218.3" width="1" height="21.4" fill="#ef5350"/>
<rect x="693" y="219.3" width="3" height="20.4" fill="#ef5350"/>
<rect x="696" y="237.7" width="1" height="7.9" fill="#ef5350"/>
<rect x="695" y="239.7" width="3" height="1.4" fill="#ef5350"/>
<rect x="699" y="234.4" width="1" height="8.6" fill="#26a69a"/>
<rect x="698" y="235.4" width="3" height="5.6" fill="#26a69a"/>
<rect x="702" y="225.2" width="1" height="19.4" fill="#ef5350"/>
<rect x="701" y="235.4" width="3" height="4.2" fill="#ef5350"/>
<rect x="705" y="237.7" width="1" height="20.7" fill="#ef5350"/>
<rect x="704" y="239.7" width="3" height="13.6" fill="#ef5350"/>
<rect x="708" y="242.8" width="1" height="13.9" fill="#26a69a"/>
<rect x="707" y="244.8" width="3" height="8.5" fill="#26a69a"/>
<rect x="711" y="238.0" width="1" height="9.6" fill="#ef5350"/>
<rect x="710" y="244.8" width="3" height="1.8" fill="#ef5350"/>
<rect x="714" y="232.6" width="1" height="16.0" fill="#26a69a"/>
<rect x="713" y="234.6" width="3" height="12.0" fill="#26a69a"/>
<rect x="716" y="217.4" width="1" height="22.1" fill="#26a69a"/>
<rect x="715" y="218.4" width="3" height="16.1" fill="#26a69a"/>
<rect x="719" y="211.6" width="1" height="8.5" fill="#ef5350"/>
<rect x="718" y="218.4" width="3" height="1.7" fill="#ef5350"/>
<rect x="722" y="204.8" width="1" height="22.1" fill="#ef5350"/>
<rect x="721" y="220.1" width="3" height="1.8" fill="#ef5350"/>
<rect x="725" y="213.3" width="1" height="40.8" fill="#ef5350"/>
<rect x="724" y="221.9" width="3" height="12.6" fill="#ef5350"/>
<rect x="728" y="232.6" width="1" height="16.2" fill="#ef5350"/>
<rect x="727" y="234.6" width="3" height="10.2" fill="#ef5350"/>
<rect x="731" y="240.5" width="1" height="6.9" fill="#26a69a"/>
<rect x="730" y="242.5" width="3" height="2.3" fill="#26a69a"/>
<rect x="733" y="227.1" width="1" height="16.3" fill="#26a69a"/>
<rect x="732" y="228.1" width="3" height="14.3" fill="#26a69a"/>
<rect x="736" y="223.5" width="1" height="6.6" fill="#26a69a"/>
<rect x="735" y="226.0" width="3" height="2.1" fill="#26a69a"/>
<rect x="739" y="205.2" width="1" height="21.8" fill="#26a69a"/>
<rect x="738" y="208.2" width="3" height="17.8" fill="#26a69a"/>
<rect x="742" y="206.5" width="1" height="5.4" fill="#ef5350"/>
<rect x="741" y="208.2" width="3" height="1.7" fill="#ef5350"/>
<rect x="745" y="204.0" width="1" height="15.4" fill="#ef5350"/>
<rect x="744" y="209.9" width="3" height="8.5" fill="#ef5350"/>
<rect x="748" y="212.0" width="1" height="12.3" fill="#26a69a"/>
<rect x="747" y="215.0" width="3" height="3.4" fill="#26a69a"/>
<rect x="751" y="190.4" width="1" height="29.6" fill="#26a69a"/>
<rect x="750" y="192.4" width="3" height="22.6" fill="#26a69a"/>
<rect x="753" y="191.4" width="1" height="2.7" fill="#ef5350"/>
<rect x="752" y="192.4" width="3" height="1.7" fill="#ef5350"/>
<rect x="756" y="182.2" width="1" height="16.9" fill="#26a69a"/>
<rect x="755" y="190.4" width="3" height="3.8" fill="#26a69a"/>
<rect x="759" y="187.0" width="1" height="6.1" fill="#ef5350"/>
<rect x="758" y="190.4" width="3" height="1.7" fill="#ef5350"/>
<rect x="762" y="188.1" width="1" height="19.2" fill="#ef5350"/>
<rect x="761" y="192.1" width="3" height="11.0" fill="#ef5350"/>
<rect x="765" y="187.1" width="1" height="20.1" fill="#26a69a"/>
<rect x="764" y="190.1" width="3" height="13.1" fill="#26a69a"/>
<rect x="768" y="184.4" width="1" height="8.6" fill="#26a69a"/>
<rect x="767" y="188.7" width="3" height="1.4" fill="#26a69a"/>
<rect x="771" y="183.6" width="1" height="6.1" fill="#26a69a"/>
<rect x="770" y="187.0" width="3" height="1.7" fill="#26a69a"/>
<rect x="773" y="184.0" width="1" height="10.6" fill="#ef5350"/>
<rect x="772" y="187.0" width="3" height="7.6" fill="#ef5350"/>
<rect x="776" y="183.6" width="1" height="14.0" fill="#26a69a"/>
<rect x="775" y="187.0" width="3" height="7.6" fill="#26a69a"/>
<rect x="779" y="184.4" width="1" height="13.2" fill="#ef5350"/>
<rect x="778" y="187.0" width="3" height="7.6" fill="#ef5350"/>
<rect x="782" y="192.6" width="1" height="6.2" fill="#ef5350"/>
<rect x="781" y="194.6" width="3" height="1.4" fill="#ef5350"/>
<rect x="785" y="196.1" width="1" height="10.5" fill="#ef5350"/>
<rect x="784" y="196.1" width="3" height="3.7" fill="#ef5350"/>
<rect x="788" y="185.3" width="1" height="16.4" fill="#26a69a"/>
<rect x="787" y="189.5" width="3" height="10.2" fill="#26a69a"/>
<rect x="790" y="183.3" width="1" height="15.9" fill="#ef5350"/>
<rect x="789" y="189.5" width="3" height="7.6" fill="#ef5350"/>
<rect x="793" y="196.2" width="1" height="5.7" fill="#ef5350"/>
<rect x="792" y="197.2" width="3" height="1.7" fill="#ef5350"/>
<rect x="796" y="191.5" width="1" height="9.9" fill="#26a69a"/>
<rect x="795" y="195.5" width="3" height="3.4" fill="#26a69a"/>
<rect x="799" y="187.5" width="1" height="7.9" fill="#26a69a"/>
<rect x="798" y="189.5" width="3" height="5.9" fill="#26a69a"/>
<rect x="802" y="183.6" width="1" height="9.6" fill="#ef5350"/>
<rect x="801" y="189.5" width="3" height="1.7" fill="#ef5350"/>
<rect x="805" y="168.9" width="1" height="22.4" fill="#26a69a"/>
<rect x="804" y="169.9" width="3" height="21.4" fill="#26a69a"/>
<rect x="808" y="159.1" width="1" height="11.8" fill="#26a69a"/>
<rect x="807" y="161.1" width="3" height="8.8" fill="#26a69a"/>
<rect x="810" y="157.7" width="1" height="5.4" fill="#26a69a"/>
<rect x="809" y="159.7" width="3" height="1.4" fill="#26a69a"/>
<rect x="813" y="155.7" width="1" height="12.9" fill="#ef5350"/>
<rect x="812" y="159.7" width="3" height="5.9" fill="#ef5350"/>
<rect x="816" y="152.0" width="1" height="22.1" fill="#ef5350"/>
<rect x="815" y="165.6" width="3" height="5.1" fill="#ef5350"/>
<rect x="819" y="156.3" width="1" height="17.4" fill="#26a69a"/>
<rect x="818" y="158.3" width="3" height="12.4" fill="#26a69a"/>
<rect x="822" y="136.1" width="1" height="22.2" fill="#26a69a"/>
<rect x="821" y="140.1" width="3" height="18.2" fill="#26a69a"/>
<rect x="825" y="122.0" width="1" height="20.1" fill="#26a69a"/>
<rect x="824" y="126.0" width="3" height="14.1" fill="#26a69a"/>
<rect x="828" y="120.7" width="1" height="10.4" fill="#26a69a"/>
<rect x="827" y="124.7" width="3" height="1.4" fill="#26a69a"/>
<rect x="830" y="120.7" width="1" height="9.0" fill="#26a69a"/>
<rect x="829" y="122.7" width="3" height="2.0" fill="#26a69a"/>
<rect x="833" y="114.5" width="1" height="8.2" fill="#26a69a"/>
<rect x="832" y="121.3" width="3" height="1.4" fill="#26a69a"/>
<rect x="836" y="120.3" width="1" height="7.9" fill="#ef5350"/>
<rect x="835" y="121.3" width="3" height="5.9" fill="#ef5350"/>
<rect x="839" y="122.2" width="1" height="17.7" fill="#ef5350"/>
<rect x="838" y="127.2" width="3" height="10.2" fill="#ef5350"/>
<rect x="842" y="120.4" width="1" height="21.0" fill="#26a69a"/>
<rect x="841" y="124.7" width="3" height="12.7" fill="#26a69a"/>
<rect x="845" y="121.7" width="1" height="8.4" fill="#ef5350"/>
<rect x="844" y="124.7" width="3" height="3.4" fill="#ef5350"/>
<rect x="847" y="126.1" width="1" height="8.8" fill="#ef5350"/>
<rect x="846" y="128.1" width="3" height="1.6" fill="#ef5350"/>
<rect x="850" y="121.3" width="1" height="16.1" fill="#26a69a"/>
<rect x="849" y="128.1" width="3" height="1.6" fill="#26a69a"/>
<rect x="853" y="124.1" width="1" height="12.8" fill="#ef5350"/>
<rect x="852" y="128.1" width="3" height="6.8" fill="#ef5350"/>
<rect x="856" y="132.9" width="1" height="21.4" fill="#ef5350"/>
<rect x="855" y="134.9" width="3" height="14.4" fill="#ef5350"/>
<rect x="859" y="135.1" width="1" height="15.2" fill="#26a69a"/>
<rect x="858" y="139.1" width="3" height="10.2" fill="#26a69a"/>
<rect x="862" y="125.7" width="1" height="14.4" fill="#26a69a"/>
<rect x="861" y="126.7" width="3" height="12.4" fill="#26a69a"/>
<rect x="865" y="125.7" width="1" height="7.8" fill="#ef5350"/>
<rect x="864" y="126.7" width="3" height="4.8" fill="#ef5350"/>
<rect x="867" y="118.8" width="1" height="15.2" fill="#26a69a"/>
<rect x="866" y="123.8" width="3" height="7.6" fill="#26a69a"/>
<rect x="870" y="116.7" width="1" height="12.1" fill="#26a69a"/>
<rect x="869" y="118.7" width="3" height="5.1" fill="#26a69a"/>
<rect x="873" y="109.8" width="1" height="13.9" fill="#26a69a"/>
<rect x="872" y="112.8" width="3" height="5.9" fill="#26a69a"/>
<rect x="876" y="95.4" width="1" height="18.4" fill="#26a69a"/>
<rect x="875" y="99.4" width="3" height="13.4" fill="#26a69a"/>
<rect x="879" y="91.5" width="1" height="8.8" fill="#26a69a"/>
<rect x="878" y="97.8" width="3" height="1.6" fill="#26a69a"/>
<rect x="882" y="84.3" width="1" height="14.5" fill="#26a69a"/>
<rect x="881" y="87.3" width="3" height="10.5" fill="#26a69a"/>
<rect x="885" y="83.0" width="1" height="21.2" fill="#ef5350"/>
<rect x="884" y="87.3" width="3" height="14.4" fill="#ef5350"/>
<rect x="887" y="90.7" width="1" height="13.0" fill="#26a69a"/>
<rect x="886" y="93.7" width="3" height="8.0" fill="#26a69a"/>
<rect x="890" y="86.0" width="1" height="14.0" fill="#26a69a"/>
<rect x="889" y="89.0" width="3" height="4.8" fill="#26a69a"/>
<rect x="893" y="87.0" width="1" height="10.5" fill="#ef5350"/>
<rect x="892" y="89.0" width="3" height="2.2" fill="#ef5350"/>
<rect x="896" y="76.2" width="1" height="18.9" fill="#26a69a"/>
<rect x="895" y="76.2" width="3" height="14.9" fill="#26a69a"/>
<rect x="899" y="69.4" width="1" height="10.8" fill="#26a69a"/>
<rect x="898" y="71.1" width="3" height="5.1" fill="#26a69a"/>
<rect x="902" y="69.4" width="1" height="27.8" fill="#ef5350"/>
<rect x="901" y="71.1" width="3" height="22.1" fill="#ef5350"/>
<rect x="904" y="88.1" width="1" height="8.1" fill="#26a69a"/>
<rect x="903" y="91.5" width="3" height="1.7" fill="#26a69a"/>
<rect x="907" y="91.5" width="1" height="6.7" fill="#ef5350"/>
<rect x="906" y="91.5" width="3" height="1.7" fill="#ef5350"/>
<rect x="910" y="87.0" width="1" height="10.5" fill="#26a69a"/>
<rect x="909" y="89.0" width="3" height="4.2" fill="#26a69a"/>
<rect x="913" y="86.0" width="1" height="41.4" fill="#ef5350"/>
<rect x="912" y="89.0" width="3" height="37.4" fill="#ef5350"/>
<rect x="916" y="103.6" width="1" height="28.7" fill="#26a69a"/>
<rect x="915" y="105.6" width="3" height="20.7" fill="#26a69a"/>
<rect x="919" y="104.6" width="1" height="11.8" fill="#ef5350"/>
<rect x="918" y="105.6" width="3" height="8.8" fill="#ef5350"/>
<rect x="922" y="112.5" width="1" height="36.6" fill="#ef5350"/>
<rect x="921" y="114.5" width="3" height="30.6" fill="#ef5350"/>
<rect x="924" y="140.0" width="1" height="17.6" fill="#ef5350"/>
<rect x="923" y="145.1" width="3" height="8.5" fill="#ef5350"/>
<rect x="927" y="148.6" width="1" height="19.2" fill="#ef5350"/>
<rect x="926" y="153.6" width="3" height="10.2" fill="#ef5350"/>
<rect x="930" y="161.8" width="1" height="16.6" fill="#ef5350"/>
<rect x="929" y="163.8" width="3" height="4.4" fill="#ef5350"/>
<rect x="933" y="162.2" width="1" height="10.0" fill="#26a69a"/>
<rect x="932" y="166.7" width="3" height="1.4" fill="#26a69a"/>
<rect x="936" y="142.8" width="1" height="29.0" fill="#26a69a"/>
<rect x="935" y="146.8" width="3" height="20.0" fill="#26a69a"/>
<rect x="939" y="133.3" width="1" height="13.5" fill="#26a69a"/>
<rect x="938" y="138.3" width="3" height="8.5" fill="#26a69a"/>
<rect x="942" y="128.8" width="1" height="13.5" fill="#26a69a"/>
<rect x="941" y="129.8" width="3" height="8.5" fill="#26a69a"/>
<rect x="944" y="116.3" width="1" height="18.5" fill="#26a69a"/>
<rect x="943" y="121.3" width="3" height="8.5" fill="#26a69a"/>
<rect x="947" y="100.6" width="1" height="21.7" fill="#26a69a"/>
<rect x="946" y="102.6" width="3" height="18.7" fill="#26a69a"/>
<rect x="950" y="99.2" width="1" height="45.0" fill="#ef5350"/>
<rect x="949" y="102.6" width="3" height="38.2" fill="#ef5350"/>
<rect x="953" y="137.1" width="1" height="12.2" fill="#26a69a"/>
<rect x="952" y="139.1" width="3" height="1.7" fill="#26a69a"/>
<rect x="956" y="127.2" width="1" height="12.9" fill="#26a69a"/>
<rect x="955" y="136.6" width="3" height="2.5" fill="#26a69a"/>
<rect x="959" y="133.7" width="1" height="8.0" fill="#26a69a"/>
<rect x="958" y="134.7" width="3" height="1.9" fill="#26a69a"/>
<rect x="961" y="123.0" width="1" height="16.7" fill="#26a69a"/>
<rect x="960" y="130.6" width="3" height="4.1" fill="#26a69a"/>
<rect x="964" y="129.6" width="1" height="11.2" fill="#ef5350"/>
<rect x="963" y="130.6" width="3" height="5.1" fill="#ef5350"/>
<rect x="967" y="133.2" width="1" height="2.5" fill="#26a69a"/>
<rect x="966" y="133.2" width="3" height="2.5" fill="#26a69a"/>
<rect x="970" y="127.2" width="1" height="6.9" fill="#26a69a"/>
<rect x="969" y="130.6" width="3" height="2.5" fill="#26a69a"/>
<rect x="973" y="128.6" width="1" height="12.2" fill="#ef5350"/>
<rect x="972" y="130.6" width="3" height="7.6" fill="#ef5350"/>
<rect x="976" y="134.3" width="1" height="10.8" fill="#26a69a"/>
<rect x="975" y="136.3" width="3" height="2.0" fill="#26a69a"/>
<rect x="979" y="119.6" width="1" height="17.7" fill="#26a69a"/>
<rect x="978" y="126.4" width="3" height="9.9" fill="#26a69a"/>
<rect x="981" y="109.1" width="1" height="21.3" fill="#26a69a"/>
<rect x="980" y="111.1" width="3" height="15.3" fill="#26a69a"/>
<rect x="984" y="99.0" width="1" height="13.0" fill="#26a69a"/>
<rect x="983" y="100.0" width="3" height="11.0" fill="#26a69a"/>
<rect x="987" y="96.6" width="1" height="21.4" fill="#ef5350"/>
<rect x="986" y="100.0" width="3" height="17.0" fill="#ef5350"/>
<rect x="990" y="115.0" width="1" height="17.6" fill="#ef5350"/>
<rect x="989" y="117.0" width="3" height="13.6" fill="#ef5350"/>
<rect x="993" y="130.6" width="1" height="1.6" fill="#ef5350"/>
<rect x="992" y="130.6" width="3" height="1.6" fill="#ef5350"/>
<rect x="996" y="126.4" width="1" height="10.2" fill="#ef5350"/>
<rect x="995" y="132.2" width="3" height="2.4" fill="#ef5350"/>
<rect x="999" y="131.6" width="1" height="29.1" fill="#ef5350"/>
<rect x="998" y="134.6" width="3" height="24.1" fill="#ef5350"/>
<rect x="1001" y="156.7" width="1" height="3.9" fill="#ef5350"/>
<rect x="1000" y="158.7" width="3" height="1.9" fill="#ef5350"/>
<rect x="1004" y="137.7" width="1" height="26.8" fill="#26a69a"/>
<rect x="1003" y="141.5" width="3" height="19.0" fill="#26a69a"/>
<rect x="1007" y="138.5" width="1" height="10.5" fill="#ef5350"/>
<rect x="1006" y="141.5" width="3" height="5.4" fill="#ef5350"/>
<rect x="1010" y="140.6" width="1" height="10.3" fill="#26a69a"/>
<rect x="1009" y="145.6" width="3" height="1.3" fill="#26a69a"/>
<rect x="1013" y="135.4" width="1" height="11.2" fill="#26a69a"/>
<rect x="1012" y="137.7" width="3" height="7.9" fill="#26a69a"/>
<rect x="1016" y="135.4" width="1" height="10.5" fill="#ef5350"/>
<rect x="1015" y="137.7" width="3" height="6.2" fill="#ef5350"/>
<rect x="1018" y="141.8" width="1" height="12.0" fill="#ef5350"/>
<rect x="1017" y="143.8" width="3" height="6.2" fill="#ef5350"/>
<rect x="1021" y="137.5" width="1" height="15.5" fill="#26a69a"/>
<rect x="1020" y="141.5" width="3" height="8.5" fill="#26a69a"/>
<rect x="1024" y="136.7" width="1" height="8.8" fill="#26a69a"/>
<rect x="1023" y="139.7" width="3" height="1.8" fill="#26a69a"/>
<rect x="1027" y="123.9" width="1" height="19.8" fill="#26a69a"/>
<rect x="1026" y="126.9" width="3" height="12.8" fill="#26a69a"/>
<rect x="1030" y="123.8" width="1" height="13.5" fill="#ef5350"/>
<rect x="1029" y="126.9" width="3" height="8.5" fill="#ef5350"/>
<rect x="1033" y="130.0" width="1" height="15.4" fill="#26a69a"/>
<rect x="1032" y="133.2" width="3" height="2.2" fill="#26a69a"/>
<rect x="1036" y="124.6" width="1" height="9.6" fill="#26a69a"/>
<rect x="1035" y="131.5" width="3" height="1.7" fill="#26a69a"/>
<rect x="1038" y="123.4" width="1" height="13.2" fill="#26a69a"/>
<rect x="1037" y="125.4" width="3" height="6.2" fill="#26a69a"/>
<rect x="1041" y="117.7" width="1" height="9.7" fill="#26a69a"/>
<rect x="1040" y="122.3" width="3" height="3.1" fill="#26a69a"/>
<rect x="1044" y="109.2" width="1" height="15.1" fill="#26a69a"/>
<rect x="1043" y="113.8" width="3" height="8.5" fill="#26a69a"/>
<rect x="1047" y="111.5" width="1" height="15.8" fill="#ef5350"/>
<rect x="1046" y="113.8" width="3" height="11.5" fill="#ef5350"/>
<rect x="1050" y="119.5" width="1" height="10.8" fill="#26a69a"/>
<rect x="1049" y="121.5" width="3" height="3.8" fill="#26a69a"/>
<rect x="1053" y="108.5" width="1" height="15.1" fill="#26a69a"/>
<rect x="1052" y="110.5" width="3" height="11.1" fill="#26a69a"/>
<rect x="1056" y="98.5" width="1" height="14.0" fill="#26a69a"/>
<rect x="1055" y="103.1" width="3" height="7.4" fill="#26a69a"/>
<rect x="1058" y="102.1" width="1" height="10.6" fill="#ef5350"/>
<rect x="1057" y="103.1" width="3" height="4.6" fill="#ef5350"/>
<rect x="1061" y="103.6" width="1" height="9.5" fill="#26a69a"/>
<rect x="1060" y="104.6" width="3" height="3.1" fill="#26a69a"/>
<rect x="1064" y="84.5" width="1" height="25.2" fill="#26a69a"/>
<rect x="1063" y="86.5" width="3" height="18.2" fill="#26a69a"/>
</g>

<rect x="11" y="493.8" width="1088" height="81.5" fill="#7e57c2" fill-opacity="0.1"/>
<g stroke="#85888f" stroke-width="1" stroke-dasharray="5 6" shape-rendering="crispEdges">
<line x1="11" y1="494.5" x2="1094" y2="494.5"/>
<line x1="11" y1="535.5" x2="1094" y2="535.5" stroke="#a3a6ae"/>
<line x1="11" y1="575.5" x2="1094" y2="575.5"/>
</g>
<g clip-path="url(#cpRsi)">
<path d="M10.0,574.6 L13.5,573.5 L19.2,563.1 L22.7,541.2 L25.0,538.8 L28.5,540.0 L30.8,536.5 L34.2,518.1 L37.2,514.6 L41.2,517.4 L44.2,519.2 L46.9,530.8 L50.4,544.6 L53.8,541.2 L57.3,542.3 L58.9,537.7 L61.9,549.2 L64.9,552.2 L67.7,549.2 L70.5,534.2 L73.5,522.7 L76.9,523.8 L79.2,526.2 L81.5,538.8 L84.3,533.5 L87.3,542.3 L90.3,558.5 L93.1,574.6 L98.8,588.5 L102.3,597.7 L106.9,600.0 L111.5,588.5 L113.4,570.0 L115.7,551.5 L118.5,546.9 L121.5,538.8 L123.5,542.3 L126.5,505.4 L130.0,514.6 L133.5,508.8 L136.9,497.3 L140.4,491.5 L143.4,496.2 L146.2,498.5 L149.6,496.2 L153.1,492.7 L155.8,486.5 L158.8,499.6 L161.2,505.4 L164.6,505.4 L169.2,500.8 L172.7,512.3 L175.7,523.8 L178.0,534.2 L180.8,529.6 L184.2,542.3 L187.7,534.2 L191.2,526.2 L194.6,516.9 L198.1,518.1 L200.4,519.2 L203.8,508.8 L207.3,515.8 L210.8,511.2 L214.2,504.2 L217.7,491.5 L220.5,490.4 L222.8,497.3 L225.8,484.6 L228.1,512.3 L230.4,518.1 L233.4,521.5 L237.3,516.9 L240.8,534.2 L243.5,543.5 L245.8,544.2 L248.8,521.5 L251.5,517.4 L255.0,526.2 L258.5,519.2 L260.1,518.1 L263.1,521.5 L265.8,516.9 L268.8,513.5 L271.8,512.3 L274.2,506.5 L276.5,503.1 L279.2,508.8 L282.0,512.8 L286.2,514.2 L288.5,516.9 L291.2,529.6 L295.4,528.5 L297.2,530.8 L300.0,538.8 L303.5,540.0 L306.5,542.3 L309.2,533.1 L311.5,522.7 L313.8,520.4 L316.6,537.7 L320.1,552.7 L322.6,541.2 L325.4,537.2 L327.7,540.0 L330.5,536.5 L333.5,544.6 L336.5,541.2 L339.2,541.8 L341.5,533.1 L344.3,530.3 L347.3,528.5 L350.8,517.4 L353.5,528.5 L356.1,538.8 L358.8,532.6 L362.3,532.6 L365.8,534.2 L368.1,540.0 L370.8,544.6 L373.2,560.8 L375.7,561.5 L378.5,551.5 L381.9,543.5 L385.4,537.7 L388.8,532.6 L392.3,533.1 L395.8,524.3 L398.8,528.5 L401.5,529.6 L405.0,523.8 L407.3,512.3 L409.6,495.0 L411.9,482.3 L415.4,475.4 L418.8,470.8 L422.3,466.2 L424.6,464.3 L426.9,465.0 L429.2,482.3 L430.4,488.1 L433.2,483.5 L436.2,495.0 L438.5,498.0 L441.2,496.2 L444.2,498.0 L447.0,489.2 L450.0,493.8 L452.8,505.4 L455.8,500.8 L459.2,496.2 L462.7,483.5 L466.2,481.2 L468.5,477.7 L470.0,475.4 L472.3,469.6 L474.6,467.3 L477.4,474.2 L479.7,468.0 L482.7,466.6 L486.2,464.3 L488.9,478.8 L491.9,473.1 L494.9,490.4 L497.7,483.5 L500.5,482.8 L503.9,495.0 L506.5,489.7 L508.8,489.2 L512.0,519.2 L515.0,521.5 L518.0,524.3 L521.2,518.1 L524.2,517.4 L526.1,520.4 L528.8,538.8 L531.8,527.3 L535.1,533.1 L536.9,532.6 L540.4,525.0 L543.4,528.5 L546.2,531.9 L548.9,518.1 L551.2,514.6 L554.2,525.0 L557.2,515.8 L560.0,509.5 L562.3,512.8 L565.1,503.5 L568.1,500.3 L570.4,501.9 L572.7,516.9 L576.6,539.5 L579.6,537.7 L583.1,530.8 L585.4,529.6 L588.2,537.2 L590.5,535.4 L593.5,540.5 L596.5,532.6 L599.2,540.0 L602.0,530.8 L605.0,523.4 L608.0,549.2 L611.2,544.6 L614.2,542.3 L617.7,540.0 L620.0,545.8 L622.3,535.8 L625.1,540.0 L628.1,535.8 L631.1,536.5 L633.8,525.7 L636.2,537.7 L639.6,534.9 L641.9,538.8 L644.9,545.8 L647.7,536.5 L651.2,535.4 L654.6,534.2 L657.4,526.2 L660.4,524.3 L662.0,522.7 L665.0,511.8 L668.0,526.2 L670.8,523.4 L673.1,520.4 L675.4,508.8 L677.7,507.7 L680.5,505.4 L682.8,499.6 L685.1,494.3 L688.1,501.9 L690.4,507.7 L692.7,523.8 L695.0,527.3 L698.5,523.8 L700.0,525.0 L701.8,527.3 L703.5,540.5 L706.5,533.5 L709.2,532.6 L712.7,522.0 L715.7,512.3 L718.5,513.5 L721.2,515.8 L724.2,529.6 L727.2,537.2 L730.0,538.8 L732.8,523.8 L735.1,522.0 L738.1,510.0 L741.1,511.8 L743.8,519.2 L746.6,517.4 L749.6,504.2 L752.6,502.6 L755.4,501.2 L758.2,504.2 L761.2,516.9 L764.2,508.8 L766.9,506.5 L769.2,505.4 L772.0,515.1 L774.3,511.2 L777.3,518.1 L780.8,521.1 L784.2,524.3 L786.5,520.4 L788.8,514.6 L791.8,524.3 L794.6,521.1 L798.1,517.4 L800.8,518.8 L803.2,503.1 L806.2,496.6 L808.9,495.0 L811.9,501.9 L814.7,509.5 L817.2,504.2 L820.0,491.5 L822.3,489.7 L825.8,483.5 L828.8,482.3 L832.0,480.0 L834.3,489.2 L836.8,503.5 L839.6,496.6 L842.6,498.5 L845.8,500.3 L848.8,503.5 L851.8,514.6 L854.6,523.8 L856.9,529.2 L859.7,519.2 L862.7,509.5 L865.0,512.8 L868.0,507.7 L870.8,503.5 L874.2,496.2 L876.5,491.1 L879.5,491.5 L882.8,484.6 L884.6,504.2 L887.4,499.6 L890.4,496.6 L893.4,498.5 L896.2,491.1 L899.6,486.9 L901.9,510.5 L904.2,514.2 L907.2,515.8 L910.5,511.8 L912.3,528.5 L914.2,546.9 L916.9,531.2 L919.2,542.3 L920.0,542.3 L922.3,555.0 L925.1,560.8 L928.1,565.4 L931.5,567.0 L933.8,567.2 L935.7,549.2 L938.5,542.3 L941.2,536.5 L944.2,530.8 L946.5,523.8 L948.2,516.9 L950.0,541.2 L953.5,540.0 L956.9,538.8 L959.7,537.2 L962.0,535.4 L965.0,538.2 L968.0,535.8 L970.3,534.9 L973.1,540.5 L975.8,539.5 L978.8,528.5 L981.8,516.9 L983.9,511.8 L986.9,525.0 L989.7,536.5 L992.7,536.5 L995.7,540.0 L998.9,556.6 L1001.2,551.5 L1003.5,543.5 L1006.5,545.1 L1009.5,542.3 L1012.3,538.2 L1015.1,541.2 L1018.1,546.5 L1021.1,538.8 L1023.8,537.7 L1026.8,526.2 L1029.6,533.1 L1033.1,534.9 L1035.8,529.6 L1038.8,525.0 L1041.6,520.4 L1044.2,514.2 L1046.9,526.2 L1049.7,520.4 L1052.7,514.2 L1055.0,509.5 L1058.0,514.6 L1060.8,511.8 L1063.1,504.2 L1065.8,498.5 L1068.8,499.6 L1070.0,500.8 L1070.0,493.8 L10.0,493.8 Z" fill="url(#gOB)" clip-path="url(#cpOB)"/>
<path d="M10.0,574.6 L13.5,573.5 L19.2,563.1 L22.7,541.2 L25.0,538.8 L28.5,540.0 L30.8,536.5 L34.2,518.1 L37.2,514.6 L41.2,517.4 L44.2,519.2 L46.9,530.8 L50.4,544.6 L53.8,541.2 L57.3,542.3 L58.9,537.7 L61.9,549.2 L64.9,552.2 L67.7,549.2 L70.5,534.2 L73.5,522.7 L76.9,523.8 L79.2,526.2 L81.5,538.8 L84.3,533.5 L87.3,542.3 L90.3,558.5 L93.1,574.6 L98.8,588.5 L102.3,597.7 L106.9,600.0 L111.5,588.5 L113.4,570.0 L115.7,551.5 L118.5,546.9 L121.5,538.8 L123.5,542.3 L126.5,505.4 L130.0,514.6 L133.5,508.8 L136.9,497.3 L140.4,491.5 L143.4,496.2 L146.2,498.5 L149.6,496.2 L153.1,492.7 L155.8,486.5 L158.8,499.6 L161.2,505.4 L164.6,505.4 L169.2,500.8 L172.7,512.3 L175.7,523.8 L178.0,534.2 L180.8,529.6 L184.2,542.3 L187.7,534.2 L191.2,526.2 L194.6,516.9 L198.1,518.1 L200.4,519.2 L203.8,508.8 L207.3,515.8 L210.8,511.2 L214.2,504.2 L217.7,491.5 L220.5,490.4 L222.8,497.3 L225.8,484.6 L228.1,512.3 L230.4,518.1 L233.4,521.5 L237.3,516.9 L240.8,534.2 L243.5,543.5 L245.8,544.2 L248.8,521.5 L251.5,517.4 L255.0,526.2 L258.5,519.2 L260.1,518.1 L263.1,521.5 L265.8,516.9 L268.8,513.5 L271.8,512.3 L274.2,506.5 L276.5,503.1 L279.2,508.8 L282.0,512.8 L286.2,514.2 L288.5,516.9 L291.2,529.6 L295.4,528.5 L297.2,530.8 L300.0,538.8 L303.5,540.0 L306.5,542.3 L309.2,533.1 L311.5,522.7 L313.8,520.4 L316.6,537.7 L320.1,552.7 L322.6,541.2 L325.4,537.2 L327.7,540.0 L330.5,536.5 L333.5,544.6 L336.5,541.2 L339.2,541.8 L341.5,533.1 L344.3,530.3 L347.3,528.5 L350.8,517.4 L353.5,528.5 L356.1,538.8 L358.8,532.6 L362.3,532.6 L365.8,534.2 L368.1,540.0 L370.8,544.6 L373.2,560.8 L375.7,561.5 L378.5,551.5 L381.9,543.5 L385.4,537.7 L388.8,532.6 L392.3,533.1 L395.8,524.3 L398.8,528.5 L401.5,529.6 L405.0,523.8 L407.3,512.3 L409.6,495.0 L411.9,482.3 L415.4,475.4 L418.8,470.8 L422.3,466.2 L424.6,464.3 L426.9,465.0 L429.2,482.3 L430.4,488.1 L433.2,483.5 L436.2,495.0 L438.5,498.0 L441.2,496.2 L444.2,498.0 L447.0,489.2 L450.0,493.8 L452.8,505.4 L455.8,500.8 L459.2,496.2 L462.7,483.5 L466.2,481.2 L468.5,477.7 L470.0,475.4 L472.3,469.6 L474.6,467.3 L477.4,474.2 L479.7,468.0 L482.7,466.6 L486.2,464.3 L488.9,478.8 L491.9,473.1 L494.9,490.4 L497.7,483.5 L500.5,482.8 L503.9,495.0 L506.5,489.7 L508.8,489.2 L512.0,519.2 L515.0,521.5 L518.0,524.3 L521.2,518.1 L524.2,517.4 L526.1,520.4 L528.8,538.8 L531.8,527.3 L535.1,533.1 L536.9,532.6 L540.4,525.0 L543.4,528.5 L546.2,531.9 L548.9,518.1 L551.2,514.6 L554.2,525.0 L557.2,515.8 L560.0,509.5 L562.3,512.8 L565.1,503.5 L568.1,500.3 L570.4,501.9 L572.7,516.9 L576.6,539.5 L579.6,537.7 L583.1,530.8 L585.4,529.6 L588.2,537.2 L590.5,535.4 L593.5,540.5 L596.5,532.6 L599.2,540.0 L602.0,530.8 L605.0,523.4 L608.0,549.2 L611.2,544.6 L614.2,542.3 L617.7,540.0 L620.0,545.8 L622.3,535.8 L625.1,540.0 L628.1,535.8 L631.1,536.5 L633.8,525.7 L636.2,537.7 L639.6,534.9 L641.9,538.8 L644.9,545.8 L647.7,536.5 L651.2,535.4 L654.6,534.2 L657.4,526.2 L660.4,524.3 L662.0,522.7 L665.0,511.8 L668.0,526.2 L670.8,523.4 L673.1,520.4 L675.4,508.8 L677.7,507.7 L680.5,505.4 L682.8,499.6 L685.1,494.3 L688.1,501.9 L690.4,507.7 L692.7,523.8 L695.0,527.3 L698.5,523.8 L700.0,525.0 L701.8,527.3 L703.5,540.5 L706.5,533.5 L709.2,532.6 L712.7,522.0 L715.7,512.3 L718.5,513.5 L721.2,515.8 L724.2,529.6 L727.2,537.2 L730.0,538.8 L732.8,523.8 L735.1,522.0 L738.1,510.0 L741.1,511.8 L743.8,519.2 L746.6,517.4 L749.6,504.2 L752.6,502.6 L755.4,501.2 L758.2,504.2 L761.2,516.9 L764.2,508.8 L766.9,506.5 L769.2,505.4 L772.0,515.1 L774.3,511.2 L777.3,518.1 L780.8,521.1 L784.2,524.3 L786.5,520.4 L788.8,514.6 L791.8,524.3 L794.6,521.1 L798.1,517.4 L800.8,518.8 L803.2,503.1 L806.2,496.6 L808.9,495.0 L811.9,501.9 L814.7,509.5 L817.2,504.2 L820.0,491.5 L822.3,489.7 L825.8,483.5 L828.8,482.3 L832.0,480.0 L834.3,489.2 L836.8,503.5 L839.6,496.6 L842.6,498.5 L845.8,500.3 L848.8,503.5 L851.8,514.6 L854.6,523.8 L856.9,529.2 L859.7,519.2 L862.7,509.5 L865.0,512.8 L868.0,507.7 L870.8,503.5 L874.2,496.2 L876.5,491.1 L879.5,491.5 L882.8,484.6 L884.6,504.2 L887.4,499.6 L890.4,496.6 L893.4,498.5 L896.2,491.1 L899.6,486.9 L901.9,510.5 L904.2,514.2 L907.2,515.8 L910.5,511.8 L912.3,528.5 L914.2,546.9 L916.9,531.2 L919.2,542.3 L920.0,542.3 L922.3,555.0 L925.1,560.8 L928.1,565.4 L931.5,567.0 L933.8,567.2 L935.7,549.2 L938.5,542.3 L941.2,536.5 L944.2,530.8 L946.5,523.8 L948.2,516.9 L950.0,541.2 L953.5,540.0 L956.9,538.8 L959.7,537.2 L962.0,535.4 L965.0,538.2 L968.0,535.8 L970.3,534.9 L973.1,540.5 L975.8,539.5 L978.8,528.5 L981.8,516.9 L983.9,511.8 L986.9,525.0 L989.7,536.5 L992.7,536.5 L995.7,540.0 L998.9,556.6 L1001.2,551.5 L1003.5,543.5 L1006.5,545.1 L1009.5,542.3 L1012.3,538.2 L1015.1,541.2 L1018.1,546.5 L1021.1,538.8 L1023.8,537.7 L1026.8,526.2 L1029.6,533.1 L1033.1,534.9 L1035.8,529.6 L1038.8,525.0 L1041.6,520.4 L1044.2,514.2 L1046.9,526.2 L1049.7,520.4 L1052.7,514.2 L1055.0,509.5 L1058.0,514.6 L1060.8,511.8 L1063.1,504.2 L1065.8,498.5 L1068.8,499.6 L1070.0,500.8 L1070.0,575.3 L10.0,575.3 Z" fill="url(#gOS)" clip-path="url(#cpOS)"/>
<path d="M10.0,553.8 L14.6,557.3 L20.4,559.6 L26.2,558.9 L31.9,557.3 L37.7,550.4 L44.6,541.2 L51.5,535.4 L58.5,532.6 L64.2,532.6 L70.0,534.2 L76.9,534.9 L83.8,535.8 L90.8,538.8 L97.7,546.9 L104.6,556.2 L111.5,565.4 L118.5,570.0 L123.1,570.5 L127.7,567.7 L134.6,556.2 L141.5,538.8 L148.5,521.5 L155.4,507.7 L162.3,500.8 L169.2,498.5 L173.8,499.6 L180.8,506.5 L187.7,513.5 L194.6,518.1 L201.5,521.1 L208.5,522.7 L213.1,522.7 L220.0,518.1 L226.9,508.8 L231.5,506.5 L238.5,507.2 L240.0,506.5 L246.9,512.3 L253.8,518.1 L260.8,522.0 L267.7,524.3 L274.6,522.7 L281.5,519.2 L287.3,515.8 L293.1,516.9 L300.0,519.2 L306.9,522.7 L313.8,527.3 L320.8,531.9 L327.7,535.4 L334.6,537.7 L341.5,538.2 L348.5,537.2 L355.4,535.4 L362.3,534.2 L369.2,534.9 L376.2,537.2 L383.1,538.8 L390.0,541.2 L396.9,540.5 L403.8,538.8 L409.6,535.4 L414.2,526.2 L418.8,515.8 L424.6,504.2 L430.4,495.0 L436.2,489.2 L441.9,485.8 L447.7,483.0 L452.3,484.6 L458.1,489.2 L462.7,492.7 L467.3,493.4 L470.0,492.7 L476.9,486.9 L483.8,482.3 L490.8,477.7 L496.5,475.4 L502.3,475.4 L508.1,478.2 L513.8,484.6 L519.6,492.7 L525.4,501.9 L531.2,510.0 L536.9,516.9 L543.8,522.7 L550.8,525.0 L557.7,524.3 L564.6,521.5 L571.5,518.1 L578.5,518.1 L585.4,519.2 L592.3,522.7 L599.2,527.3 L606.2,531.9 L613.1,535.4 L620.0,536.5 L626.9,537.2 L633.8,537.7 L640.8,537.2 L647.7,537.2 L654.6,536.5 L661.5,534.9 L668.5,532.6 L675.4,529.6 L680.0,525.0 L684.6,519.2 L689.2,515.8 L695.0,514.6 L700.0,515.8 L706.9,518.1 L713.8,519.2 L720.8,521.1 L726.5,524.3 L731.2,526.6 L736.9,525.0 L743.8,522.0 L750.8,518.1 L757.7,516.5 L764.6,514.2 L771.5,511.2 L778.5,510.0 L785.4,510.5 L792.3,513.5 L799.2,515.8 L806.2,515.1 L813.1,513.5 L818.8,511.2 L824.6,506.5 L830.4,500.8 L836.2,495.0 L843.1,493.4 L850.0,494.3 L856.9,498.0 L863.8,502.6 L869.6,506.5 L875.4,507.7 L882.3,506.5 L889.2,505.4 L896.2,501.9 L901.9,498.5 L907.7,498.5 L912.3,500.8 L918.1,508.8 L920.0,510.0 L924.6,518.1 L930.4,528.5 L936.2,537.7 L941.9,542.3 L947.7,544.6 L954.6,546.5 L961.5,545.8 L967.3,542.3 L973.1,538.8 L980.0,534.9 L986.9,533.1 L993.8,533.5 L1000.8,535.4 L1007.7,537.2 L1014.6,538.2 L1021.5,540.5 L1028.5,541.8 L1034.2,541.2 L1040.0,538.2 L1045.8,534.2 L1051.5,530.3 L1057.3,525.0 L1063.1,520.4 L1068.8,515.8" fill="none" stroke="#f5e97a" stroke-width="1.3" stroke-linejoin="round"/>
<path d="M10.0,574.6 L13.5,573.5 L19.2,563.1 L22.7,541.2 L25.0,538.8 L28.5,540.0 L30.8,536.5 L34.2,518.1 L37.2,514.6 L41.2,517.4 L44.2,519.2 L46.9,530.8 L50.4,544.6 L53.8,541.2 L57.3,542.3 L58.9,537.7 L61.9,549.2 L64.9,552.2 L67.7,549.2 L70.5,534.2 L73.5,522.7 L76.9,523.8 L79.2,526.2 L81.5,538.8 L84.3,533.5 L87.3,542.3 L90.3,558.5 L93.1,574.6 L98.8,588.5 L102.3,597.7 L106.9,600.0 L111.5,588.5 L113.4,570.0 L115.7,551.5 L118.5,546.9 L121.5,538.8 L123.5,542.3 L126.5,505.4 L130.0,514.6 L133.5,508.8 L136.9,497.3 L140.4,491.5 L143.4,496.2 L146.2,498.5 L149.6,496.2 L153.1,492.7 L155.8,486.5 L158.8,499.6 L161.2,505.4 L164.6,505.4 L169.2,500.8 L172.7,512.3 L175.7,523.8 L178.0,534.2 L180.8,529.6 L184.2,542.3 L187.7,534.2 L191.2,526.2 L194.6,516.9 L198.1,518.1 L200.4,519.2 L203.8,508.8 L207.3,515.8 L210.8,511.2 L214.2,504.2 L217.7,491.5 L220.5,490.4 L222.8,497.3 L225.8,484.6 L228.1,512.3 L230.4,518.1 L233.4,521.5 L237.3,516.9 L240.8,534.2 L243.5,543.5 L245.8,544.2 L248.8,521.5 L251.5,517.4 L255.0,526.2 L258.5,519.2 L260.1,518.1 L263.1,521.5 L265.8,516.9 L268.8,513.5 L271.8,512.3 L274.2,506.5 L276.5,503.1 L279.2,508.8 L282.0,512.8 L286.2,514.2 L288.5,516.9 L291.2,529.6 L295.4,528.5 L297.2,530.8 L300.0,538.8 L303.5,540.0 L306.5,542.3 L309.2,533.1 L311.5,522.7 L313.8,520.4 L316.6,537.7 L320.1,552.7 L322.6,541.2 L325.4,537.2 L327.7,540.0 L330.5,536.5 L333.5,544.6 L336.5,541.2 L339.2,541.8 L341.5,533.1 L344.3,530.3 L347.3,528.5 L350.8,517.4 L353.5,528.5 L356.1,538.8 L358.8,532.6 L362.3,532.6 L365.8,534.2 L368.1,540.0 L370.8,544.6 L373.2,560.8 L375.7,561.5 L378.5,551.5 L381.9,543.5 L385.4,537.7 L388.8,532.6 L392.3,533.1 L395.8,524.3 L398.8,528.5 L401.5,529.6 L405.0,523.8 L407.3,512.3 L409.6,495.0 L411.9,482.3 L415.4,475.4 L418.8,470.8 L422.3,466.2 L424.6,464.3 L426.9,465.0 L429.2,482.3 L430.4,488.1 L433.2,483.5 L436.2,495.0 L438.5,498.0 L441.2,496.2 L444.2,498.0 L447.0,489.2 L450.0,493.8 L452.8,505.4 L455.8,500.8 L459.2,496.2 L462.7,483.5 L466.2,481.2 L468.5,477.7 L470.0,475.4 L472.3,469.6 L474.6,467.3 L477.4,474.2 L479.7,468.0 L482.7,466.6 L486.2,464.3 L488.9,478.8 L491.9,473.1 L494.9,490.4 L497.7,483.5 L500.5,482.8 L503.9,495.0 L506.5,489.7 L508.8,489.2 L512.0,519.2 L515.0,521.5 L518.0,524.3 L521.2,518.1 L524.2,517.4 L526.1,520.4 L528.8,538.8 L531.8,527.3 L535.1,533.1 L536.9,532.6 L540.4,525.0 L543.4,528.5 L546.2,531.9 L548.9,518.1 L551.2,514.6 L554.2,525.0 L557.2,515.8 L560.0,509.5 L562.3,512.8 L565.1,503.5 L568.1,500.3 L570.4,501.9 L572.7,516.9 L576.6,539.5 L579.6,537.7 L583.1,530.8 L585.4,529.6 L588.2,537.2 L590.5,535.4 L593.5,540.5 L596.5,532.6 L599.2,540.0 L602.0,530.8 L605.0,523.4 L608.0,549.2 L611.2,544.6 L614.2,542.3 L617.7,540.0 L620.0,545.8 L622.3,535.8 L625.1,540.0 L628.1,535.8 L631.1,536.5 L633.8,525.7 L636.2,537.7 L639.6,534.9 L641.9,538.8 L644.9,545.8 L647.7,536.5 L651.2,535.4 L654.6,534.2 L657.4,526.2 L660.4,524.3 L662.0,522.7 L665.0,511.8 L668.0,526.2 L670.8,523.4 L673.1,520.4 L675.4,508.8 L677.7,507.7 L680.5,505.4 L682.8,499.6 L685.1,494.3 L688.1,501.9 L690.4,507.7 L692.7,523.8 L695.0,527.3 L698.5,523.8 L700.0,525.0 L701.8,527.3 L703.5,540.5 L706.5,533.5 L709.2,532.6 L712.7,522.0 L715.7,512.3 L718.5,513.5 L721.2,515.8 L724.2,529.6 L727.2,537.2 L730.0,538.8 L732.8,523.8 L735.1,522.0 L738.1,510.0 L741.1,511.8 L743.8,519.2 L746.6,517.4 L749.6,504.2 L752.6,502.6 L755.4,501.2 L758.2,504.2 L761.2,516.9 L764.2,508.8 L766.9,506.5 L769.2,505.4 L772.0,515.1 L774.3,511.2 L777.3,518.1 L780.8,521.1 L784.2,524.3 L786.5,520.4 L788.8,514.6 L791.8,524.3 L794.6,521.1 L798.1,517.4 L800.8,518.8 L803.2,503.1 L806.2,496.6 L808.9,495.0 L811.9,501.9 L814.7,509.5 L817.2,504.2 L820.0,491.5 L822.3,489.7 L825.8,483.5 L828.8,482.3 L832.0,480.0 L834.3,489.2 L836.8,503.5 L839.6,496.6 L842.6,498.5 L845.8,500.3 L848.8,503.5 L851.8,514.6 L854.6,523.8 L856.9,529.2 L859.7,519.2 L862.7,509.5 L865.0,512.8 L868.0,507.7 L870.8,503.5 L874.2,496.2 L876.5,491.1 L879.5,491.5 L882.8,484.6 L884.6,504.2 L887.4,499.6 L890.4,496.6 L893.4,498.5 L896.2,491.1 L899.6,486.9 L901.9,510.5 L904.2,514.2 L907.2,515.8 L910.5,511.8 L912.3,528.5 L914.2,546.9 L916.9,531.2 L919.2,542.3 L920.0,542.3 L922.3,555.0 L925.1,560.8 L928.1,565.4 L931.5,567.0 L933.8,567.2 L935.7,549.2 L938.5,542.3 L941.2,536.5 L944.2,530.8 L946.5,523.8 L948.2,516.9 L950.0,541.2 L953.5,540.0 L956.9,538.8 L959.7,537.2 L962.0,535.4 L965.0,538.2 L968.0,535.8 L970.3,534.9 L973.1,540.5 L975.8,539.5 L978.8,528.5 L981.8,516.9 L983.9,511.8 L986.9,525.0 L989.7,536.5 L992.7,536.5 L995.7,540.0 L998.9,556.6 L1001.2,551.5 L1003.5,543.5 L1006.5,545.1 L1009.5,542.3 L1012.3,538.2 L1015.1,541.2 L1018.1,546.5 L1021.1,538.8 L1023.8,537.7 L1026.8,526.2 L1029.6,533.1 L1033.1,534.9 L1035.8,529.6 L1038.8,525.0 L1041.6,520.4 L1044.2,514.2 L1046.9,526.2 L1049.7,520.4 L1052.7,514.2 L1055.0,509.5 L1058.0,514.6 L1060.8,511.8 L1063.1,504.2 L1065.8,498.5 L1068.8,499.6 L1070.0,500.8" fill="none" stroke="#7e57c2" stroke-width="1" stroke-opacity="0.92" stroke-linejoin="round"/>
</g>

<circle cx="245.4" cy="466" r="3.4" fill="none" stroke="#131722" stroke-width="1.1"/><line x1="241.1" y1="469.9" x2="249.7" y2="462.1" stroke="#131722" stroke-width="1.1"/>
<circle cx="265.1" cy="466" r="3.4" fill="none" stroke="#131722" stroke-width="1.1"/><line x1="260.8" y1="469.9" x2="269.4" y2="462.1" stroke="#131722" stroke-width="1.1"/>
<circle cx="284.7" cy="466" r="3.4" fill="none" stroke="#131722" stroke-width="1.1"/><line x1="280.4" y1="469.9" x2="289.0" y2="462.1" stroke="#131722" stroke-width="1.1"/>
<circle cx="304.3" cy="466" r="3.4" fill="none" stroke="#131722" stroke-width="1.1"/><line x1="300.0" y1="469.9" x2="308.6" y2="462.1" stroke="#131722" stroke-width="1.1"/>
<circle cx="323.6" cy="466" r="3.4" fill="none" stroke="#131722" stroke-width="1.1"/><line x1="319.3" y1="469.9" x2="327.9" y2="462.1" stroke="#131722" stroke-width="1.1"/>
<circle cx="343.2" cy="466" r="3.4" fill="none" stroke="#131722" stroke-width="1.1"/><line x1="338.9" y1="469.9" x2="347.5" y2="462.1" stroke="#131722" stroke-width="1.1"/>
<g>
<circle cx="1077.6" cy="436.9" r="10.4" fill="#fff" stroke="#e2475a" stroke-width="1.5"/>
<circle cx="1077.6" cy="436.9" r="7.6" fill="none" stroke="#ea5a62" stroke-width="1.1"/>
<rect x="1082.4" y="434.6" width="3.6" height="3.8" fill="#e8494f"/>
<rect x="1082.6" y="430.6" width="2.2" height="1.3" fill="#ef7a7d"/>
<rect x="1082.6" y="441.6" width="2.2" height="1.3" fill="#ef7a7d"/>
<circle cx="1069.9" cy="436.9" r="10.4" fill="#fff" stroke="#b93a78" stroke-width="1.5"/>
<circle cx="1072.1" cy="436.9" r="9.7" fill="#fff" stroke="#e2455a" stroke-width="1.3"/>
<g clip-path="url(#cpFlag)">
<rect x="1062" y="427" width="20" height="20" fill="#fff"/>
<rect x="1074" y="430.6" width="8" height="1.2" fill="#ef8a8a"/>
<rect x="1074" y="432.9" width="8" height="1.2" fill="#ef8a8a"/>
<rect x="1074" y="435.3" width="8" height="2.5" fill="#e8494f"/>
<rect x="1062" y="441.3" width="20" height="2.5" fill="#e8494f"/>
<rect x="1062" y="427" width="12.2" height="11.5" fill="#2b7fd4"/>
<g fill="#9fd8ff"><rect x="1068.6" y="430.6" width="1.3" height="1.3"/><rect x="1071.3" y="430.6" width="1.3" height="1.3"/><rect x="1065.9" y="433.2" width="1.3" height="1.3"/><rect x="1068.6" y="433.2" width="1.3" height="1.3"/><rect x="1071.3" y="433.2" width="1.3" height="1.3"/><rect x="1065.9" y="435.8" width="1.3" height="1.3"/><rect x="1068.6" y="435.8" width="1.3" height="1.3"/><rect x="1071.3" y="435.8" width="1.3" height="1.3"/></g>
</g>
</g>

<g fill="#131722">
<path d="M10.2 627.1H17.7V636.8H13.8V630.7H10.2Z"/>
<circle cx="20.3" cy="628.8" r="1.7"/>
<path d="M23.0 627.1H28.9L25.6 636.8H20.0Z"/>
</g>
</svg>
<span class="t" style="left:10.3px;top:8.7px;font-size:12px;color:#131722;font-weight:400;letter-spacing:0.054px">forexonline1 published on TradingView.com, Jan 23, 2025 07:40 UTC</span>
<span class="t" style="left:18.3px;top:35.5px;font-size:12px;color:#131722;font-weight:400;letter-spacing:-0.207px">CFDs on Gold (US$ / OZ), 1D, TVC</span>
<span class="t" style="left:209.8px;top:35.5px;font-size:12px;color:#131722;font-weight:400;letter-spacing:-1.744px">O</span>
<span class="t" style="left:219.3px;top:35.5px;font-size:12px;color:#d9575a;font-weight:400;letter-spacing:-0.510px">2,752.782</span>
<span class="t" style="left:277.3px;top:35.5px;font-size:12px;color:#131722;font-weight:400;letter-spacing:-1.972px">H</span>
<span class="t" style="left:285.6px;top:35.5px;font-size:12px;color:#d9575a;font-weight:400;letter-spacing:-0.466px">2,756.620</span>
<span class="t" style="left:343.7px;top:35.5px;font-size:12px;color:#131722;font-weight:400;letter-spacing:-2.087px">L</span>
<span class="t" style="left:349.3px;top:35.5px;font-size:12px;color:#d9575a;font-weight:400;letter-spacing:-0.466px">2,749.640</span>
<span class="t" style="left:407.5px;top:35.5px;font-size:12px;color:#131722;font-weight:400;letter-spacing:-3.172px">C</span>
<span class="t" style="left:414.3px;top:35.5px;font-size:12px;color:#d9575a;font-weight:400;letter-spacing:-0.466px">2,752.060</span>
<span class="t" style="left:472.5px;top:35.5px;font-size:12px;color:#d9575a;font-weight:400;letter-spacing:-0.607px">−3.695 (−0.13%)</span>
<span class="t" style="left:1108.4px;top:57.9px;font-size:12px;color:#131722;font-weight:400;letter-spacing:-0.421px">2,800.000</span>
<span class="t" style="left:1108.4px;top:145.0px;font-size:12px;color:#131722;font-weight:400;letter-spacing:-0.421px">2,600.000</span>
<span class="t" style="left:1108.4px;top:188.5px;font-size:12px;color:#131722;font-weight:400;letter-spacing:-0.421px">2,500.000</span>
<span class="t" style="left:1108.4px;top:232.0px;font-size:12px;color:#131722;font-weight:400;letter-spacing:-0.421px">2,400.000</span>
<span class="t" style="left:1108.4px;top:275.5px;font-size:12px;color:#131722;font-weight:400;letter-spacing:-0.421px">2,300.000</span>
<span class="t" style="left:1108.4px;top:319.1px;font-size:12px;color:#131722;font-weight:400;letter-spacing:-0.421px">2,200.000</span>
<span class="t" style="left:1108.4px;top:362.6px;font-size:12px;color:#131722;font-weight:400;letter-spacing:-0.421px">2,100.000</span>
<span class="t" style="left:1108.4px;top:406.1px;font-size:12px;color:#131722;font-weight:400;letter-spacing:-0.421px">2,000.000</span>
<span class="t" style="left:1108.0px;top:467.5px;font-size:12px;color:#131722;font-weight:400;letter-spacing:-0.306px">80.00</span>
<span class="t" style="left:1108.0px;top:511.6px;font-size:12px;color:#131722;font-weight:400;letter-spacing:-0.306px">61.17</span>
<span class="t" style="left:1108.0px;top:545.5px;font-size:12px;color:#131722;font-weight:400;letter-spacing:-0.306px">43.86</span>
<span class="t" style="left:32.4px;top:594.7px;font-size:12px;color:#131722;font-weight:400;letter-spacing:-0.353px">Sep</span>
<span class="t" style="left:153.9px;top:594.7px;font-size:12px;color:#131722;font-weight:400;letter-spacing:0.119px">Nov</span>
<span class="t" style="left:273.3px;top:594.7px;font-size:12px;color:#131722;font-weight:700;letter-spacing:0.174px">2024</span>
<span class="t" style="left:400.5px;top:594.7px;font-size:12px;color:#131722;font-weight:400;letter-spacing:0.076px">Mar</span>
<span class="t" style="left:521.0px;top:594.7px;font-size:12px;color:#131722;font-weight:400;letter-spacing:0.209px">May</span>
<span class="t" style="left:646.6px;top:594.7px;font-size:12px;color:#131722;font-weight:400;letter-spacing:-0.281px">Jul</span>
<span class="t" style="left:771.6px;top:594.7px;font-size:12px;color:#131722;font-weight:400;letter-spacing:-0.353px">Sep</span>
<span class="t" style="left:894.9px;top:594.7px;font-size:12px;color:#131722;font-weight:400;letter-spacing:0.119px">Nov</span>
<span class="t" style="left:1011.2px;top:594.7px;font-size:12px;color:#131722;font-weight:700;letter-spacing:0.174px">2025</span>
<span class="t" style="left:18.3px;top:459.8px;font-size:12px;color:#131722;font-weight:400;letter-spacing:-0.144px">RSI (14, close, SMA, 14, 2)</span>
<span class="t" style="left:167.8px;top:459.8px;font-size:12px;color:#7e57c2;font-weight:400;letter-spacing:-0.366px">66.90</span>
<span class="t" style="left:204.4px;top:459.8px;font-size:12px;color:#f2e36b;font-weight:400;letter-spacing:-0.466px">59.16</span>
<span class="t" style="left:33.1px;top:626.7px;font-size:12.5px;color:#1c2030;font-weight:400;letter-spacing:0.228px">TradingView</span>
<div class="lb" style="left:1100.0px;top:61.2px;width:62.5px;height:16.4px;background:#2a61f2;border-radius:2px"></div>
<span class="t" style="left:1108.4px;top:62.9px;font-size:12px;color:#fff;font-weight:400;letter-spacing:-0.421px">2,790.769</span>
<div class="lb" style="left:1061.3px;top:78.1px;width:37.7px;height:15.8px;background:#ef5350;border-radius:2px"></div>
<span class="t" style="left:1066.2px;top:81.1px;font-size:11px;color:#fff;font-weight:400;letter-spacing:-0.597px">GOLD</span>
<div class="lb" style="left:1100.0px;top:77.6px;width:62.5px;height:31.1px;background:#ef5350;border-radius:2px"></div>
<span class="t" style="left:1108.4px;top:80.2px;font-size:12px;color:#fff;font-weight:400;letter-spacing:-0.421px">2,752.060</span>
<span class="t" style="left:1108.4px;top:93.4px;font-size:12px;color:#fbd4d3;font-weight:400;letter-spacing:-0.452px">14:19:16</span>
<div class="lb" style="left:1100.0px;top:108.7px;width:62.5px;height:16.7px;background:#2a61f2;border-radius:2px"></div>
<span class="t" style="left:1108.4px;top:111.4px;font-size:12px;color:#fff;font-weight:400;letter-spacing:-0.421px">2,686.338</span>
<div class="lb" style="left:1100.0px;top:209.0px;width:62.5px;height:16.6px;background:#2a61f2;border-radius:2px"></div>
<span class="t" style="left:1108.4px;top:211.3px;font-size:12px;color:#fff;font-weight:400;letter-spacing:-0.421px">2,450.729</span>
<div class="lb" style="left:1100.0px;top:340.7px;width:62.5px;height:16.6px;background:#2a61f2;border-radius:2px"></div>
<span class="t" style="left:1108.4px;top:343.0px;font-size:12px;color:#fff;font-weight:400;letter-spacing:-0.421px">2,147.315</span>
<div class="lb" style="left:1100.0px;top:409.7px;width:62.5px;height:16.6px;background:#2a61f2;border-radius:2px"></div>
<span class="t" style="left:1108.4px;top:412.0px;font-size:12px;color:#fff;font-weight:400;letter-spacing:-0.421px">1,988.853</span>
<div class="lb" style="left:1100.0px;top:492.2px;width:41.0px;height:16.2px;background:#7e57c2;border-radius:2px"></div>
<span class="t" style="left:1108.0px;top:494.3px;font-size:12px;color:#fff;font-weight:400;letter-spacing:-0.306px">66.90</span>
<div class="lb" style="left:1100.0px;top:526.2px;width:41.0px;height:16.6px;background:#ffeb3b;border-radius:2px"></div>
<span class="t" style="left:1108.0px;top:528.5px;font-size:12px;color:#131722;font-weight:400;letter-spacing:-0.306px">59.16</span>
</body></html>
